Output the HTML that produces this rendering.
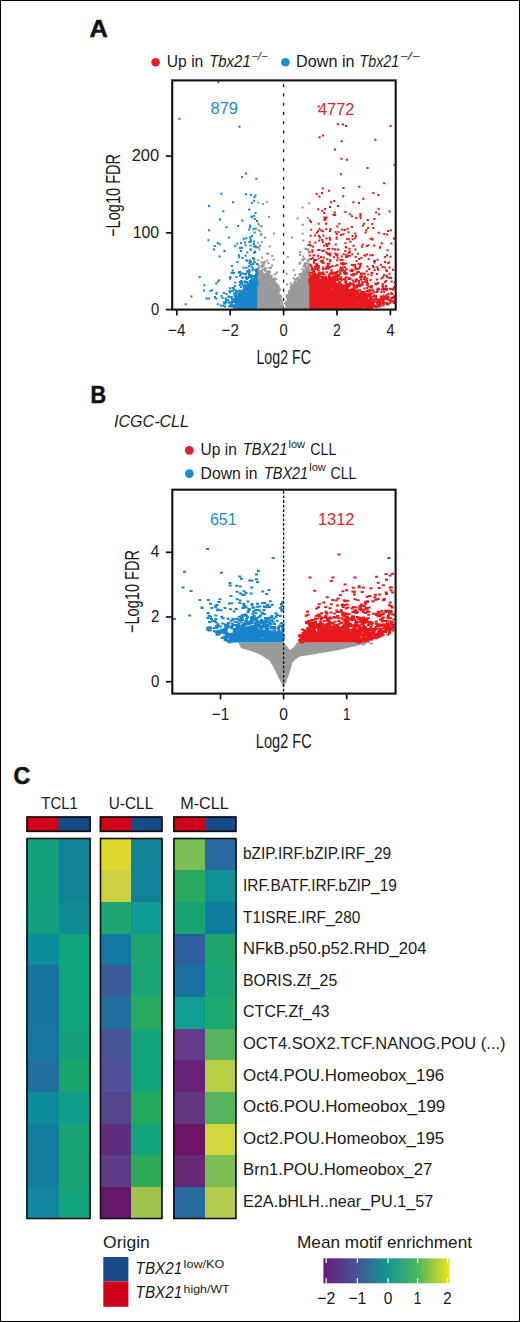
<!DOCTYPE html>
<html><head><meta charset="utf-8"><style>
html,body{margin:0;padding:0;background:#fff;overflow:hidden;width:520px;height:1322px;}
svg{display:block;}
text{font-family:"Liberation Sans", sans-serif;}
</style></head><body>
<svg width="520" height="1322" viewBox="0 0 520 1322">
<rect x="0" y="0" width="520" height="1322" fill="#fff"/>
<path d="M257.9 278.5V309.6M258.9 278.3V309.6M259.9 278.1V309.6M260.9 277.8V309.6M261.9 277.6V309.6M262.9 278.1V309.6M263.9 278.6V309.6M264.9 279.1V309.6M265.9 279.6V309.6M266.9 280.3V309.6M267.9 281.0V309.6M268.9 281.8V309.6M269.9 282.5V309.6M270.9 283.7V309.6M271.9 284.9V309.6M272.9 286.1V309.6M273.9 287.3V309.6M274.9 288.5V309.6M275.9 290.8V309.6M276.9 293.2V309.6M277.9 295.6V309.6M278.9 298.0V309.6M279.9 300.4V309.6M280.9 304.2V309.6M281.9 308.2V309.6M285.9 306.3V309.6M286.9 302.9V309.6M287.9 301.1V309.6M288.9 299.4V309.6M289.9 297.8V309.6M290.9 296.0V309.6M291.9 294.2V309.6M292.9 292.4V309.6M293.9 290.6V309.6M294.9 288.8V309.6M295.9 287.7V309.6M296.9 286.7V309.6M297.9 285.7V309.6M298.9 284.7V309.6M299.9 283.7V309.6M300.9 282.5V309.6M301.9 281.3V309.6M302.9 280.1V309.6M303.9 278.9V309.6M304.9 277.7V309.6M305.9 276.7V309.6M306.9 275.8V309.6M307.9 274.8V309.6M308.8 274.0V309.6" stroke="#9a9a9a" stroke-width="1.05" fill="none"/>
<path d="M257.6 277.9h.1M257.8 278.1h.1M257.5 278.1h.1M257.5 277.6h.1M257.8 276.8h.1M258.0 277.1h.1M257.7 277.5h.1M258.1 277.4h.1M257.6 275.5h.1M257.8 276.1h.1M258.1 276.2h.1M257.8 275.2h.1M258.1 275.4h.1M257.8 273.5h.1M258.0 272.0h.1M257.7 269.5h.1M258.3 265.6h.1M258.4 266.0h.1M258.0 264.2h.1M258.2 259.9h.1M257.7 247.2h.1M257.8 242.8h.1M258.2 223.4h.1M258.3 202.7h.1M259.1 278.2h.1M258.6 277.9h.1M258.9 277.2h.1M258.8 276.7h.1M258.7 276.9h.1M259.2 276.1h.1M258.7 276.0h.1M258.6 276.2h.1M259.4 273.8h.1M258.7 272.4h.1M258.4 273.2h.1M258.4 270.2h.1M258.4 269.7h.1M259.1 267.9h.1M259.3 249.5h.1M259.4 246.5h.1M258.9 247.2h.1M258.5 229.9h.1M258.5 224.6h.1M259.5 276.1h.1M259.8 276.6h.1M259.7 274.9h.1M259.5 274.3h.1M259.4 273.3h.1M259.9 271.9h.1M259.6 271.0h.1M260.2 245.5h.1M260.1 231.5h.1M260.5 276.6h.1M260.6 276.4h.1M260.5 276.2h.1M260.8 275.6h.1M261.3 274.9h.1M261.1 272.7h.1M260.9 272.1h.1M260.9 271.7h.1M260.7 234.9h.1M260.4 225.8h.1M262.2 277.1h.1M262.3 277.1h.1M262.3 277.3h.1M261.8 277.1h.1M261.5 277.2h.1M262.3 276.0h.1M262.3 275.7h.1M261.5 275.4h.1M262.1 273.2h.1M262.2 273.1h.1M261.6 272.3h.1M262.0 270.7h.1M261.4 267.1h.1M262.0 265.7h.1M261.5 262.2h.1M262.1 262.4h.1M262.1 257.4h.1M261.9 242.1h.1M261.5 234.1h.1M261.9 226.4h.1M262.5 276.6h.1M263.2 276.8h.1M262.5 276.8h.1M263.1 275.4h.1M262.5 275.9h.1M263.0 274.5h.1M263.1 273.8h.1M262.9 269.2h.1M263.4 266.3h.1M263.3 264.8h.1M262.9 204.1h.1M264.1 277.8h.1M264.3 276.8h.1M264.1 276.1h.1M264.4 275.3h.1M264.3 274.3h.1M263.6 274.3h.1M264.3 269.8h.1M263.7 264.4h.1M264.1 262.4h.1M264.4 278.2h.1M264.4 277.8h.1M264.8 276.8h.1M264.9 276.3h.1M264.9 276.6h.1M265.0 276.7h.1M264.8 275.6h.1M264.7 275.5h.1M265.4 275.4h.1M264.5 274.8h.1M264.9 274.9h.1M265.0 270.4h.1M265.0 268.5h.1M264.7 261.7h.1M264.7 237.6h.1M265.3 237.7h.1M265.6 279.5h.1M265.8 278.9h.1M265.6 277.8h.1M266.3 278.2h.1M265.7 278.4h.1M266.2 277.2h.1M266.4 277.1h.1M266.0 277.2h.1M265.9 275.8h.1M265.7 275.9h.1M266.4 276.2h.1M265.6 275.6h.1M265.5 274.6h.1M266.4 274.2h.1M265.9 274.4h.1M266.0 274.5h.1M266.2 271.4h.1M266.3 268.3h.1M265.8 268.5h.1M267.4 279.8h.1M267.2 278.3h.1M267.0 278.4h.1M266.5 278.4h.1M266.5 279.2h.1M266.7 278.8h.1M267.0 278.1h.1M267.0 278.2h.1M267.4 277.4h.1M266.8 276.9h.1M266.9 276.3h.1M267.1 276.5h.1M267.1 274.3h.1M266.5 274.4h.1M266.7 274.2h.1M266.7 272.2h.1M267.2 260.6h.1M266.9 253.5h.1M266.7 201.8h.1M268.0 280.4h.1M268.1 280.1h.1M268.3 279.6h.1M267.5 277.3h.1M267.7 276.5h.1M267.7 276.9h.1M267.6 276.4h.1M267.9 274.8h.1M268.2 272.2h.1M268.1 271.5h.1M268.3 253.7h.1M269.0 281.2h.1M268.8 280.9h.1M269.0 281.1h.1M268.5 280.4h.1M268.7 279.0h.1M268.5 279.5h.1M268.8 278.4h.1M269.1 277.5h.1M268.7 276.7h.1M269.2 274.5h.1M268.7 274.5h.1M268.9 274.0h.1M269.1 272.3h.1M269.3 271.1h.1M269.4 268.1h.1M268.5 263.1h.1M268.9 216.9h.1M270.2 281.7h.1M270.1 282.2h.1M270.4 282.3h.1M270.3 281.7h.1M270.1 280.6h.1M269.4 278.6h.1M269.9 278.7h.1M269.5 277.7h.1M270.3 278.2h.1M269.6 277.7h.1M270.1 278.5h.1M270.1 278.1h.1M269.6 277.2h.1M270.2 276.4h.1M269.9 272.1h.1M269.8 246.5h.1M270.4 281.3h.1M270.5 281.1h.1M270.7 280.9h.1M270.7 279.9h.1M271.1 280.5h.1M270.4 278.5h.1M270.9 276.8h.1M271.1 277.6h.1M271.0 277.4h.1M271.0 267.7h.1M271.6 284.3h.1M271.5 284.6h.1M271.9 284.3h.1M272.3 283.8h.1M272.2 283.3h.1M271.8 282.7h.1M271.5 281.2h.1M271.7 279.5h.1M272.0 279.7h.1M272.0 279.6h.1M271.9 279.5h.1M271.8 278.6h.1M271.8 275.4h.1M272.0 265.5h.1M272.2 256.0h.1M272.8 285.6h.1M273.4 284.6h.1M272.8 284.0h.1M273.1 282.6h.1M272.7 282.8h.1M272.5 281.0h.1M273.1 280.1h.1M274.1 284.2h.1M274.1 282.1h.1M274.2 280.6h.1M274.0 278.4h.1M273.6 259.4h.1M273.8 233.5h.1M274.4 286.5h.1M274.7 286.7h.1M275.0 287.2h.1M275.2 286.3h.1M274.5 286.0h.1M275.2 285.4h.1M274.9 284.2h.1M275.3 284.4h.1M274.6 283.2h.1M274.9 282.9h.1M275.1 282.4h.1M274.8 279.6h.1M274.9 278.4h.1M275.1 274.0h.1M276.0 289.9h.1M275.6 289.3h.1M276.4 289.4h.1M276.1 288.8h.1M276.4 287.9h.1M275.8 288.1h.1M276.2 286.8h.1M275.4 286.4h.1M276.0 284.8h.1M276.3 283.8h.1M275.4 284.5h.1M276.2 279.3h.1M276.6 292.1h.1M276.4 289.6h.1M277.2 289.3h.1M276.8 288.4h.1M277.1 287.8h.1M276.9 286.4h.1M277.4 285.1h.1M277.1 272.4h.1M277.9 294.2h.1M278.1 294.2h.1M278.2 293.9h.1M277.8 293.4h.1M278.3 292.9h.1M278.3 292.9h.1M278.2 292.4h.1M277.8 291.4h.1M278.3 291.4h.1M277.5 291.3h.1M277.5 290.7h.1M278.3 289.6h.1M278.3 288.6h.1M278.4 287.5h.1M278.2 286.1h.1M279.3 296.5h.1M278.7 296.3h.1M278.5 296.8h.1M278.9 295.6h.1M279.4 295.3h.1M278.5 292.0h.1M279.2 290.2h.1M278.7 289.1h.1M278.5 286.4h.1M279.5 300.0h.1M279.8 298.8h.1M279.8 296.3h.1M280.1 289.5h.1M279.4 289.4h.1M281.0 302.2h.1M281.3 301.6h.1M280.5 301.6h.1M280.7 301.2h.1M280.9 301.7h.1M281.3 300.8h.1M281.3 300.8h.1M280.6 300.0h.1M281.3 297.6h.1M280.7 296.0h.1M280.4 295.7h.1M281.4 306.9h.1M282.4 306.2h.1M281.7 306.4h.1M282.3 306.2h.1M282.4 305.7h.1M281.6 303.3h.1M282.1 303.8h.1M281.7 300.7h.1M283.4 309.0h.1M283.1 309.3h.1M283.1 307.4h.1M283.0 306.5h.1M285.1 309.4h.1M285.0 303.6h.1M286.0 305.3h.1M286.3 305.2h.1M285.9 303.2h.1M286.1 302.1h.1M287.2 302.3h.1M286.7 302.3h.1M286.4 302.7h.1M286.9 302.5h.1M286.4 301.4h.1M286.4 301.7h.1M286.6 297.6h.1M286.6 296.9h.1M286.7 295.1h.1M287.0 284.6h.1M286.7 273.8h.1M287.6 300.4h.1M288.2 300.3h.1M287.7 300.1h.1M288.0 298.4h.1M288.3 297.2h.1M287.6 297.4h.1M288.2 297.6h.1M287.8 295.3h.1M287.9 295.0h.1M287.7 256.9h.1M289.1 299.0h.1M289.4 299.3h.1M289.1 299.1h.1M289.2 297.6h.1M289.4 298.1h.1M288.8 297.4h.1M288.7 296.8h.1M288.6 295.6h.1M288.8 296.3h.1M289.0 296.2h.1M288.6 294.8h.1M289.1 294.7h.1M289.1 294.3h.1M288.9 292.5h.1M289.1 290.9h.1M290.0 297.7h.1M290.0 296.5h.1M289.8 296.5h.1M290.4 295.9h.1M290.1 293.9h.1M289.5 294.6h.1M290.2 294.2h.1M290.0 293.0h.1M290.0 293.3h.1M290.9 295.3h.1M291.2 295.7h.1M290.9 294.1h.1M291.0 294.1h.1M291.1 294.6h.1M291.4 294.4h.1M290.5 293.8h.1M290.6 293.6h.1M290.5 293.3h.1M290.6 292.7h.1M291.1 291.8h.1M291.3 291.2h.1M290.6 291.6h.1M290.6 292.0h.1M291.2 290.1h.1M291.0 289.2h.1M290.8 288.2h.1M290.6 288.6h.1M290.9 287.8h.1M291.1 286.0h.1M291.4 285.8h.1M290.8 283.3h.1M292.2 293.4h.1M291.9 293.2h.1M291.5 292.2h.1M291.5 292.7h.1M292.3 292.7h.1M291.6 291.2h.1M291.9 290.4h.1M291.9 289.9h.1M292.4 288.8h.1M291.7 287.3h.1M291.9 237.4h.1M292.9 292.3h.1M293.3 292.3h.1M292.6 289.7h.1M292.9 288.8h.1M293.2 288.4h.1M293.2 288.2h.1M293.3 288.1h.1M292.5 288.1h.1M292.4 287.7h.1M292.6 285.6h.1M293.3 286.0h.1M292.5 285.3h.1M293.0 285.0h.1M293.4 289.9h.1M293.7 290.2h.1M294.2 290.1h.1M293.9 287.7h.1M293.5 288.5h.1M294.1 288.3h.1M294.0 287.3h.1M293.8 286.7h.1M294.0 287.5h.1M294.1 283.1h.1M293.7 278.2h.1M293.7 270.2h.1M294.8 288.5h.1M294.8 287.3h.1M295.3 287.1h.1M294.8 287.5h.1M295.0 286.6h.1M295.0 285.5h.1M294.8 285.2h.1M295.2 285.0h.1M294.7 284.1h.1M294.8 284.4h.1M294.9 284.2h.1M294.6 283.4h.1M294.4 283.0h.1M294.9 283.2h.1M294.9 282.1h.1M294.9 281.9h.1M294.9 282.3h.1M295.1 279.7h.1M295.2 275.1h.1M295.5 287.6h.1M296.3 287.4h.1M296.3 286.5h.1M296.2 285.9h.1M296.2 285.2h.1M296.0 285.5h.1M295.8 283.9h.1M297.0 286.6h.1M297.0 286.5h.1M296.9 285.3h.1M297.2 284.3h.1M297.1 284.0h.1M296.9 283.1h.1M297.2 283.5h.1M296.8 283.1h.1M296.5 283.3h.1M296.5 279.3h.1M297.1 278.3h.1M298.4 284.7h.1M297.8 284.3h.1M298.1 284.1h.1M298.2 284.3h.1M298.3 284.3h.1M297.8 283.5h.1M298.1 283.6h.1M298.0 282.4h.1M297.4 282.3h.1M298.2 279.9h.1M297.7 280.7h.1M298.3 279.9h.1M298.1 278.3h.1M297.9 278.2h.1M297.6 218.5h.1M299.0 284.1h.1M298.9 283.4h.1M299.2 283.1h.1M299.1 282.5h.1M299.0 279.5h.1M298.5 277.6h.1M299.8 283.4h.1M299.9 282.9h.1M299.6 282.3h.1M300.2 281.3h.1M300.0 279.8h.1M299.5 279.8h.1M300.3 275.5h.1M299.4 274.3h.1M299.7 263.7h.1M300.1 262.8h.1M300.0 255.0h.1M300.2 251.9h.1M300.6 281.5h.1M300.5 281.4h.1M300.7 280.8h.1M300.9 280.2h.1M300.6 280.1h.1M301.2 276.6h.1M301.1 274.1h.1M302.2 280.8h.1M301.5 279.0h.1M302.0 279.1h.1M302.1 277.4h.1M301.4 278.2h.1M302.0 276.9h.1M302.0 275.9h.1M302.1 273.6h.1M302.4 279.1h.1M302.9 278.4h.1M303.3 278.8h.1M303.4 278.6h.1M303.2 277.4h.1M302.4 278.0h.1M303.1 277.8h.1M302.9 277.2h.1M303.4 274.0h.1M303.3 273.5h.1M303.1 272.0h.1M302.4 269.1h.1M302.5 260.4h.1M302.7 259.3h.1M303.1 256.4h.1M303.3 240.4h.1M302.6 233.7h.1M302.8 224.8h.1M302.5 207.4h.1M303.8 278.1h.1M303.6 277.2h.1M304.3 277.3h.1M303.6 277.4h.1M303.5 276.1h.1M303.6 275.0h.1M304.1 275.2h.1M303.6 274.4h.1M303.9 271.8h.1M304.2 271.7h.1M303.4 271.6h.1M304.0 270.2h.1M303.8 266.5h.1M304.3 264.6h.1M305.2 277.5h.1M304.7 276.2h.1M304.7 275.1h.1M304.9 275.3h.1M305.3 273.9h.1M304.6 274.4h.1M305.3 274.3h.1M304.6 273.0h.1M305.0 272.5h.1M304.6 271.4h.1M304.7 270.6h.1M305.3 265.3h.1M305.0 263.0h.1M304.6 258.8h.1M305.3 248.7h.1M306.0 276.1h.1M306.2 276.5h.1M306.2 274.8h.1M305.7 275.1h.1M306.1 275.1h.1M305.8 275.4h.1M305.9 273.8h.1M305.9 273.4h.1M306.2 273.6h.1M305.7 272.9h.1M306.4 272.7h.1M306.0 269.6h.1M305.6 267.6h.1M305.6 267.4h.1M305.6 266.1h.1M306.9 274.1h.1M307.0 272.9h.1M306.8 271.9h.1M307.0 271.9h.1M307.4 270.4h.1M306.9 269.9h.1M307.2 268.0h.1M306.8 268.1h.1M306.8 263.6h.1M306.7 249.1h.1M307.6 274.3h.1M307.9 274.1h.1M307.7 273.0h.1M307.6 272.2h.1M307.8 272.2h.1M308.3 271.6h.1M307.4 267.9h.1M308.2 266.2h.1M307.9 263.6h.1M307.5 260.8h.1M308.4 250.6h.1M308.2 249.9h.1M307.5 249.0h.1M307.9 245.1h.1M307.8 218.0h.1M309.1 271.7h.1M308.9 271.1h.1M308.5 271.6h.1M309.0 270.5h.1M308.5 269.5h.1M308.4 269.9h.1M309.2 269.2h.1M309.0 269.2h.1M309.0 267.3h.1M308.8 264.4h.1M308.6 264.2h.1M309.0 260.8h.1M308.7 259.0h.1M308.4 244.9h.1M309.1 203.4h.1" stroke="#9a9a9a" stroke-width="2.0" stroke-linecap="square" fill="none"/>
<path d="M235.1 307.5V308.1M236.1 306.5V308.4M237.1 305.5V308.7M238.1 304.5V309.0M239.1 303.5V309.3M240.1 302.4V309.6M241.1 300.8V309.6M242.1 299.2V309.6M243.1 297.6V309.6M244.1 296.0V309.6M245.1 294.5V309.6M246.1 293.5V309.6M247.1 292.5V309.6M248.1 291.5V309.6M249.1 290.5V309.6M250.1 289.5V309.6M251.1 289.0V309.6M252.1 288.5V309.6M253.1 287.9V309.6M254.1 287.4V309.6M255.1 286.8V309.6M256.1 286.3V309.6M257.0 285.8V309.6" stroke="#1785cc" stroke-width="1.05" fill="none"/>
<path d="M185.6 304.2h.1M191.3 296.5h.1M199.7 276.9h.1M204.1 290.4h.1M204.3 285.3h.1M206.4 298.5h.1M208.4 240.2h.1M208.7 298.6h.1M208.9 230.3h.1M209.0 206.0h.1M210.5 290.9h.1M211.9 290.2h.1M213.9 249.5h.1M214.9 297.5h.1M214.9 297.1h.1M214.7 246.0h.1M216.3 298.4h.1M216.5 294.0h.1M216.4 292.9h.1M216.2 283.6h.1M217.7 304.3h.1M218.0 281.4h.1M217.6 243.0h.1M219.3 280.3h.1M219.6 256.5h.1M219.7 244.2h.1M220.0 219.5h.1M220.7 305.6h.1M221.4 296.0h.1M222.5 298.0h.1M223.0 305.7h.1M223.3 211.3h.1M224.6 303.8h.1M224.1 302.8h.1M224.0 302.2h.1M223.9 293.1h.1M224.4 251.0h.1M225.0 306.4h.1M225.2 303.3h.1M225.5 303.3h.1M224.9 302.5h.1M225.6 298.5h.1M226.2 302.1h.1M225.9 300.0h.1M226.0 298.8h.1M226.4 294.1h.1M226.4 227.2h.1M228.2 300.2h.1M228.3 296.4h.1M229.2 306.3h.1M229.1 306.3h.1M228.8 302.8h.1M229.1 302.6h.1M229.0 297.0h.1M229.4 297.2h.1M228.7 296.2h.1M229.3 291.2h.1M228.8 237.4h.1M230.2 306.1h.1M230.4 305.6h.1M229.8 302.2h.1M230.1 292.5h.1M230.0 288.3h.1M230.1 278.7h.1M230.4 277.6h.1M229.7 277.3h.1M230.7 306.6h.1M231.4 306.6h.1M230.9 305.1h.1M231.3 303.6h.1M231.3 291.3h.1M231.5 272.8h.1M232.0 305.6h.1M232.3 305.6h.1M232.2 304.4h.1M231.7 303.8h.1M232.1 301.8h.1M232.0 301.5h.1M231.8 299.0h.1M231.7 297.1h.1M231.9 265.9h.1M233.2 306.5h.1M233.5 305.5h.1M232.8 290.7h.1M232.7 288.1h.1M232.7 273.0h.1M232.7 270.5h.1M233.1 202.2h.1M234.0 307.6h.1M234.1 307.8h.1M234.4 306.6h.1M233.8 302.0h.1M233.6 300.6h.1M234.0 299.8h.1M234.1 299.1h.1M234.2 293.2h.1M234.1 290.0h.1M233.7 288.1h.1M233.8 273.1h.1M235.4 306.6h.1M235.1 307.3h.1M235.4 307.1h.1M235.1 305.5h.1M235.5 304.8h.1M235.1 300.6h.1M235.1 300.8h.1M235.3 301.4h.1M235.0 301.1h.1M235.2 299.0h.1M235.0 298.5h.1M235.6 297.2h.1M234.6 296.0h.1M234.6 295.0h.1M234.7 285.9h.1M235.3 282.4h.1M235.1 246.2h.1M236.3 304.8h.1M236.2 304.8h.1M236.6 304.5h.1M236.1 305.2h.1M235.7 304.9h.1M236.1 303.7h.1M235.7 302.8h.1M235.9 300.3h.1M236.2 299.7h.1M236.5 299.4h.1M236.0 296.0h.1M235.8 292.7h.1M236.4 291.9h.1M236.1 290.6h.1M236.5 277.0h.1M237.0 304.0h.1M236.8 303.2h.1M236.9 302.0h.1M237.1 301.9h.1M237.1 299.8h.1M236.7 300.1h.1M236.9 300.2h.1M236.6 298.7h.1M236.9 298.9h.1M237.5 297.1h.1M236.6 296.9h.1M237.0 294.6h.1M236.6 294.4h.1M236.7 292.0h.1M236.7 292.0h.1M237.4 262.0h.1M237.1 243.8h.1M238.1 303.9h.1M238.0 302.4h.1M237.9 301.8h.1M237.9 301.5h.1M238.5 299.1h.1M238.1 298.7h.1M238.3 294.6h.1M238.5 294.2h.1M238.2 226.1h.1M239.1 303.1h.1M238.7 303.5h.1M239.5 302.8h.1M238.6 300.9h.1M238.9 299.7h.1M238.7 298.8h.1M239.4 298.3h.1M239.2 298.1h.1M238.7 296.0h.1M239.0 294.6h.1M239.5 294.5h.1M238.9 293.2h.1M238.8 290.5h.1M239.2 290.8h.1M239.6 282.3h.1M238.9 272.7h.1M239.3 272.1h.1M239.2 272.5h.1M239.2 257.3h.1M238.8 255.2h.1M240.3 302.0h.1M239.7 301.4h.1M240.6 301.0h.1M239.9 301.0h.1M239.6 300.2h.1M239.8 300.4h.1M240.0 298.7h.1M239.7 298.8h.1M239.7 298.0h.1M239.7 298.2h.1M239.8 297.3h.1M240.5 295.8h.1M239.8 294.2h.1M239.9 292.7h.1M240.3 290.9h.1M240.5 291.4h.1M240.2 291.4h.1M239.8 285.0h.1M240.0 275.7h.1M239.9 271.9h.1M240.1 271.9h.1M240.0 247.9h.1M241.5 299.5h.1M240.7 298.1h.1M241.4 298.7h.1M241.0 298.3h.1M240.7 296.9h.1M241.2 295.9h.1M240.9 296.1h.1M241.6 296.2h.1M241.2 294.9h.1M241.3 293.0h.1M240.9 292.9h.1M241.4 292.7h.1M240.8 287.1h.1M240.9 283.1h.1M241.3 281.0h.1M240.7 281.5h.1M241.5 281.6h.1M240.7 274.6h.1M240.6 273.2h.1M240.9 251.0h.1M240.9 243.1h.1M242.2 299.0h.1M242.1 298.5h.1M242.1 297.5h.1M242.1 297.9h.1M242.1 297.8h.1M242.0 296.9h.1M242.3 296.4h.1M241.7 294.9h.1M241.7 293.8h.1M242.0 293.2h.1M241.7 292.3h.1M241.7 292.5h.1M242.1 292.9h.1M242.4 291.5h.1M242.4 292.1h.1M242.6 290.6h.1M242.5 290.7h.1M241.9 291.1h.1M241.9 284.1h.1M242.0 282.4h.1M241.9 277.7h.1M242.4 258.0h.1M241.9 247.8h.1M242.2 220.5h.1M243.0 297.4h.1M242.8 296.2h.1M243.6 295.8h.1M242.9 296.0h.1M242.6 295.1h.1M243.1 294.2h.1M242.9 294.5h.1M242.9 293.1h.1M242.8 293.2h.1M242.7 291.8h.1M243.0 291.8h.1M243.6 290.6h.1M242.7 290.9h.1M243.6 290.3h.1M243.3 286.0h.1M243.0 277.5h.1M243.1 273.4h.1M243.5 267.8h.1M244.5 296.0h.1M243.8 295.0h.1M243.8 290.2h.1M244.0 290.0h.1M243.9 288.1h.1M243.9 288.0h.1M244.4 287.7h.1M243.9 288.0h.1M244.5 286.8h.1M244.2 285.2h.1M244.6 284.5h.1M244.5 282.1h.1M244.5 274.2h.1M243.8 238.8h.1M244.7 293.9h.1M245.3 293.5h.1M245.5 293.4h.1M245.2 291.9h.1M244.9 290.5h.1M245.2 290.5h.1M244.9 289.8h.1M245.2 290.0h.1M245.1 288.7h.1M244.6 284.7h.1M245.2 284.5h.1M244.8 281.2h.1M245.5 255.8h.1M245.6 245.3h.1M245.1 242.4h.1M245.7 292.8h.1M246.3 292.8h.1M245.8 292.1h.1M246.2 290.6h.1M246.3 289.5h.1M246.3 288.7h.1M246.4 288.3h.1M245.9 288.1h.1M246.2 285.7h.1M245.8 286.2h.1M246.5 281.9h.1M246.1 277.7h.1M245.8 277.0h.1M245.9 273.7h.1M246.3 267.8h.1M246.3 260.2h.1M246.2 238.2h.1M246.0 194.2h.1M245.9 173.6h.1M247.4 292.1h.1M247.2 291.9h.1M246.8 292.2h.1M247.6 290.6h.1M247.5 290.0h.1M247.3 288.6h.1M247.6 289.0h.1M246.8 288.0h.1M247.2 287.9h.1M247.3 287.1h.1M246.6 286.1h.1M247.0 283.1h.1M246.9 278.9h.1M247.1 271.7h.1M247.6 271.1h.1M247.3 260.7h.1M247.2 252.6h.1M248.0 291.3h.1M248.5 290.4h.1M247.9 290.4h.1M247.8 288.8h.1M248.6 288.9h.1M247.7 287.9h.1M248.4 287.9h.1M248.4 285.8h.1M248.5 285.6h.1M247.9 286.0h.1M248.0 286.0h.1M248.6 285.0h.1M248.1 284.5h.1M248.3 284.4h.1M248.2 284.4h.1M248.1 282.7h.1M248.0 277.9h.1M249.5 290.0h.1M249.1 290.3h.1M249.4 289.3h.1M249.1 288.8h.1M249.5 289.0h.1M248.8 287.8h.1M249.5 288.1h.1M248.9 287.2h.1M249.4 285.9h.1M248.8 276.4h.1M248.8 274.3h.1M248.9 272.5h.1M249.6 272.1h.1M248.9 270.9h.1M249.3 269.6h.1M248.9 266.3h.1M249.4 263.3h.1M249.4 242.0h.1M249.1 229.4h.1M249.2 209.4h.1M250.6 289.4h.1M250.6 287.9h.1M250.3 288.0h.1M250.0 286.9h.1M249.8 287.1h.1M249.7 286.8h.1M249.6 287.3h.1M250.0 285.8h.1M249.6 286.3h.1M250.4 285.5h.1M250.5 285.4h.1M249.7 285.2h.1M249.9 281.9h.1M249.8 280.7h.1M250.4 281.4h.1M250.5 276.5h.1M249.7 275.1h.1M249.9 261.4h.1M249.9 260.6h.1M250.5 249.2h.1M250.4 245.4h.1M250.5 239.5h.1M250.2 237.3h.1M250.1 226.9h.1M249.9 225.5h.1M250.7 288.9h.1M250.7 288.7h.1M251.5 287.5h.1M251.5 285.7h.1M251.1 285.7h.1M251.6 285.8h.1M250.7 285.4h.1M250.7 283.8h.1M251.4 283.3h.1M251.6 283.5h.1M250.8 282.8h.1M250.9 281.4h.1M251.0 281.8h.1M251.1 277.7h.1M250.8 276.5h.1M251.6 276.9h.1M251.4 276.0h.1M250.7 275.0h.1M250.9 264.6h.1M251.0 262.0h.1M250.7 249.8h.1M250.8 241.4h.1M251.4 216.4h.1M252.1 288.3h.1M251.6 288.1h.1M251.7 287.9h.1M252.0 288.2h.1M251.9 285.7h.1M251.9 286.2h.1M252.5 284.6h.1M252.2 284.9h.1M251.8 285.2h.1M251.8 283.4h.1M251.8 283.1h.1M252.2 281.9h.1M252.0 281.0h.1M252.6 280.3h.1M251.7 279.2h.1M251.6 279.4h.1M252.3 270.2h.1M251.7 266.7h.1M252.0 235.9h.1M251.9 217.2h.1M251.9 202.8h.1M252.9 287.2h.1M253.3 287.2h.1M253.0 286.0h.1M253.6 286.3h.1M253.1 284.0h.1M252.6 283.4h.1M253.0 283.9h.1M253.3 283.6h.1M252.9 282.5h.1M253.0 281.6h.1M252.7 281.4h.1M253.1 280.1h.1M252.6 279.6h.1M253.5 276.1h.1M252.9 268.8h.1M253.0 264.1h.1M252.9 258.3h.1M253.5 229.2h.1M254.0 287.3h.1M254.1 283.0h.1M254.6 282.5h.1M253.9 282.7h.1M253.7 283.1h.1M254.5 281.4h.1M253.9 280.6h.1M254.0 278.7h.1M254.0 279.0h.1M254.6 276.3h.1M254.1 261.6h.1M254.1 258.9h.1M253.9 252.7h.1M253.7 246.6h.1M253.9 243.9h.1M254.1 241.5h.1M254.1 215.8h.1M254.1 200.8h.1M254.4 197.2h.1M255.2 285.9h.1M255.0 286.7h.1M254.9 285.4h.1M255.3 285.2h.1M255.0 283.7h.1M255.2 282.3h.1M255.5 279.1h.1M254.7 279.6h.1M255.3 277.9h.1M255.2 277.1h.1M254.6 277.6h.1M255.3 270.3h.1M255.6 269.6h.1M254.8 262.4h.1M254.8 252.4h.1M255.1 251.6h.1M254.6 232.5h.1M254.7 218.9h.1M255.5 212.9h.1M255.5 195.5h.1M255.6 285.4h.1M255.8 286.0h.1M256.4 284.7h.1M255.8 282.4h.1M256.2 280.7h.1M256.4 280.0h.1M255.7 277.3h.1M256.3 278.2h.1M256.2 276.6h.1M256.4 276.7h.1M256.4 275.8h.1M256.3 274.9h.1M256.0 274.0h.1M256.4 271.7h.1M256.1 247.4h.1M255.6 246.3h.1M255.6 228.4h.1M257.2 285.7h.1M256.9 285.5h.1M256.7 284.5h.1M257.1 283.9h.1M257.1 284.6h.1M256.9 283.1h.1M257.2 283.0h.1M257.4 282.8h.1M257.4 283.5h.1M257.1 282.5h.1M257.2 282.2h.1M257.2 281.3h.1M256.8 280.0h.1M256.7 276.7h.1M256.8 274.9h.1M257.1 274.2h.1M257.2 273.5h.1M256.8 271.4h.1M256.8 269.3h.1M257.0 264.0h.1M256.9 220.9h.1M218.2 82.3h.1M179.4 118.8h.1M239.4 126.8h.1M241.9 176.9h.1M256.3 178.8h.1M221.2 193.8h.1M250.9 194.9h.1" stroke="#1785cc" stroke-width="2.0" stroke-linecap="square" fill="none"/>
<path d="M309.7 284.7V309.6M310.7 284.8V309.6M311.7 285.0V309.6M312.7 285.1V309.6M313.7 285.2V309.6M314.7 285.4V309.6M315.7 285.5V309.6M316.7 285.7V309.6M317.7 285.8V309.6M318.7 286.0V309.6M319.7 286.1V309.6M320.7 286.3V309.6M321.7 286.4V309.6M322.7 286.5V309.6M323.7 286.7V309.6M324.7 286.8V309.6M325.7 287.0V309.6M326.7 287.1V309.6M327.7 287.3V309.6M328.7 287.4V309.6M329.7 287.6V309.6M330.7 287.9V309.6M331.7 288.3V309.6M332.7 288.7V309.6M333.7 289.1V309.6M334.7 289.5V309.6M335.7 289.9V309.6M336.7 290.3V309.6M337.7 290.7V309.6M338.7 291.1V309.6M339.7 291.5V309.6M340.7 292.0V309.6M341.7 292.6V309.6M342.7 293.2V309.6M343.7 293.8V309.6M344.7 294.4V309.6M345.7 295.0V309.6M346.7 295.6V309.6M347.7 296.2V309.6M348.7 296.8V309.6M349.7 297.4V309.6M350.7 298.0V309.6M351.7 298.6V309.6M352.7 299.2V309.6M353.7 299.8V309.6M354.7 300.4V309.6M355.7 301.0V309.5M356.7 301.6V309.4M357.7 302.2V309.3M358.7 302.8V309.2M359.7 303.4V309.1M360.7 304.1V309.0M361.7 304.8V308.9M362.7 305.5V308.8M363.7 306.2V308.7M364.7 306.9V308.6M365.7 307.6V308.5" stroke="#e8191c" stroke-width="1.05" fill="none"/>
<path d="M309.7 284.6h.1M309.6 282.6h.1M309.4 282.0h.1M310.1 280.9h.1M309.9 280.3h.1M309.3 279.8h.1M309.9 279.0h.1M309.4 279.2h.1M309.5 279.3h.1M309.9 275.0h.1M309.5 274.9h.1M309.4 272.8h.1M309.7 255.6h.1M309.5 252.2h.1M309.5 245.0h.1M309.7 242.2h.1M309.9 220.4h.1M310.3 284.0h.1M310.4 284.5h.1M310.9 282.8h.1M310.4 282.9h.1M310.4 283.2h.1M310.7 282.6h.1M310.7 282.8h.1M310.7 281.3h.1M310.7 280.4h.1M310.5 280.7h.1M310.6 279.5h.1M310.4 277.9h.1M311.1 278.8h.1M310.4 277.8h.1M310.2 277.7h.1M311.2 276.0h.1M310.5 276.2h.1M310.6 276.4h.1M310.2 272.4h.1M311.1 265.8h.1M310.3 264.8h.1M311.1 259.1h.1M310.8 245.4h.1M310.6 235.8h.1M311.2 229.7h.1M311.0 222.1h.1M312.1 284.6h.1M311.5 283.6h.1M311.6 282.9h.1M312.0 281.3h.1M312.0 281.8h.1M311.6 278.2h.1M311.9 278.1h.1M311.7 277.0h.1M312.0 276.7h.1M312.1 273.0h.1M311.7 272.8h.1M311.7 270.0h.1M311.9 268.0h.1M312.0 268.7h.1M311.7 267.5h.1M311.5 266.7h.1M312.3 283.9h.1M312.9 283.7h.1M313.0 282.3h.1M312.4 282.1h.1M312.7 281.3h.1M312.9 280.7h.1M312.6 280.6h.1M312.4 280.2h.1M312.8 281.1h.1M312.9 279.9h.1M312.7 280.0h.1M313.1 278.8h.1M313.1 278.7h.1M312.3 278.9h.1M312.7 277.5h.1M312.8 276.8h.1M312.4 275.3h.1M313.0 274.4h.1M313.1 270.6h.1M312.9 268.7h.1M312.5 258.0h.1M312.4 251.8h.1M312.3 250.2h.1M313.0 246.6h.1M313.8 284.6h.1M313.8 284.9h.1M313.3 284.0h.1M313.8 283.3h.1M313.6 282.9h.1M313.3 281.5h.1M313.8 278.1h.1M313.2 276.0h.1M313.9 275.4h.1M313.9 271.3h.1M313.7 271.4h.1M314.0 269.3h.1M313.9 269.7h.1M314.0 262.7h.1M314.0 261.0h.1M314.0 259.7h.1M313.5 255.5h.1M314.1 255.2h.1M314.2 285.3h.1M314.7 283.3h.1M314.9 283.2h.1M315.0 282.5h.1M315.2 282.2h.1M314.3 281.9h.1M314.5 281.9h.1M314.6 282.1h.1M314.3 280.6h.1M315.1 278.7h.1M315.1 278.6h.1M314.5 277.8h.1M314.9 276.3h.1M314.8 273.5h.1M315.2 274.1h.1M314.8 274.3h.1M314.7 273.2h.1M315.0 266.8h.1M314.8 235.5h.1M315.2 285.3h.1M315.7 283.7h.1M315.6 283.7h.1M315.9 283.8h.1M315.9 283.1h.1M315.2 283.4h.1M315.5 281.7h.1M315.6 280.8h.1M315.3 281.1h.1M315.3 280.0h.1M315.5 278.9h.1M316.2 277.9h.1M316.2 277.9h.1M315.4 276.8h.1M316.1 268.4h.1M315.7 266.7h.1M316.1 259.9h.1M315.4 242.6h.1M316.7 285.0h.1M316.8 284.2h.1M317.1 284.3h.1M316.4 282.9h.1M316.5 281.1h.1M316.2 280.9h.1M316.4 279.8h.1M317.0 279.6h.1M316.3 277.0h.1M316.5 276.5h.1M316.4 276.5h.1M316.6 276.0h.1M316.6 275.5h.1M316.6 275.6h.1M317.1 275.0h.1M316.4 268.8h.1M316.3 267.2h.1M316.3 265.9h.1M317.0 264.3h.1M316.2 264.0h.1M316.8 232.8h.1M316.6 194.0h.1M317.9 285.0h.1M317.5 284.7h.1M317.3 284.3h.1M317.7 284.0h.1M318.1 284.4h.1M317.7 283.4h.1M317.4 282.5h.1M317.9 281.5h.1M318.1 281.5h.1M318.0 281.7h.1M317.6 280.2h.1M317.5 280.2h.1M317.5 280.6h.1M317.8 280.1h.1M317.2 279.0h.1M317.2 277.9h.1M317.4 274.9h.1M318.1 270.4h.1M317.5 269.5h.1M317.5 268.9h.1M317.8 266.1h.1M317.8 255.7h.1M318.2 250.1h.1M318.0 231.2h.1M318.2 209.3h.1M318.9 285.1h.1M318.6 285.9h.1M319.2 285.1h.1M318.3 285.8h.1M318.6 284.8h.1M318.7 283.0h.1M318.5 282.7h.1M318.6 282.3h.1M318.4 282.8h.1M319.0 282.4h.1M318.3 281.6h.1M318.8 282.0h.1M319.0 280.2h.1M318.7 280.1h.1M318.4 279.2h.1M318.3 278.1h.1M318.5 277.1h.1M319.1 275.8h.1M318.3 275.9h.1M318.3 273.2h.1M318.5 270.6h.1M318.7 268.1h.1M318.7 265.9h.1M318.5 258.6h.1M319.2 240.6h.1M318.9 236.1h.1M318.6 223.7h.1M320.0 285.7h.1M319.3 285.2h.1M319.8 285.7h.1M320.1 283.5h.1M319.8 283.2h.1M319.8 282.9h.1M320.2 281.7h.1M320.1 281.7h.1M320.0 280.5h.1M319.7 280.4h.1M319.5 280.5h.1M319.9 280.5h.1M320.0 277.0h.1M319.5 275.8h.1M319.3 274.3h.1M319.5 273.3h.1M320.1 272.6h.1M319.5 250.1h.1M319.9 237.4h.1M319.4 229.1h.1M319.4 196.4h.1M319.5 137.2h.1M320.8 285.3h.1M320.7 284.9h.1M321.1 284.3h.1M320.7 283.8h.1M320.9 283.5h.1M320.7 283.9h.1M320.4 283.8h.1M320.3 282.6h.1M320.3 283.2h.1M320.9 282.0h.1M320.4 280.8h.1M320.6 280.5h.1M320.6 280.2h.1M320.5 280.1h.1M320.7 277.3h.1M320.4 273.9h.1M320.2 272.6h.1M320.9 261.4h.1M321.0 257.0h.1M321.1 257.2h.1M321.7 285.7h.1M321.4 284.6h.1M322.1 284.8h.1M321.7 284.3h.1M321.5 282.9h.1M321.8 282.6h.1M321.4 282.7h.1M321.7 281.6h.1M322.1 278.5h.1M321.4 273.2h.1M321.5 260.9h.1M322.0 240.0h.1M321.3 230.4h.1M321.9 193.0h.1M322.7 284.9h.1M323.1 284.9h.1M322.5 285.0h.1M322.5 284.3h.1M322.5 283.8h.1M322.3 282.7h.1M322.8 282.6h.1M323.1 282.3h.1M322.4 281.7h.1M322.2 282.2h.1M322.8 280.4h.1M322.7 278.8h.1M322.8 278.5h.1M322.8 277.9h.1M322.8 276.9h.1M322.3 277.1h.1M322.3 277.0h.1M322.6 277.2h.1M322.9 274.5h.1M322.9 273.9h.1M323.0 269.3h.1M323.1 267.4h.1M322.3 262.4h.1M322.7 260.6h.1M322.3 251.0h.1M322.9 242.0h.1M322.9 231.2h.1M322.3 210.7h.1M322.7 188.6h.1M322.9 135.6h.1M323.6 285.7h.1M323.4 286.1h.1M324.1 286.4h.1M323.7 286.0h.1M323.9 286.5h.1M323.9 284.9h.1M323.9 284.9h.1M324.0 282.7h.1M323.8 283.5h.1M324.2 282.8h.1M323.4 282.1h.1M323.3 281.9h.1M324.0 282.2h.1M323.8 281.5h.1M323.3 281.1h.1M324.0 281.5h.1M324.0 281.6h.1M323.9 280.5h.1M324.1 277.9h.1M323.6 277.7h.1M323.3 277.7h.1M323.2 272.3h.1M323.5 268.8h.1M323.5 262.9h.1M323.6 262.8h.1M323.9 257.6h.1M323.8 250.4h.1M324.0 245.7h.1M323.4 235.4h.1M324.1 212.9h.1M324.3 286.3h.1M325.1 286.0h.1M324.5 286.7h.1M325.0 285.1h.1M324.3 284.2h.1M324.5 284.0h.1M325.1 284.3h.1M324.7 282.9h.1M325.1 281.6h.1M324.3 281.4h.1M324.6 281.4h.1M325.0 280.2h.1M324.9 280.4h.1M324.6 280.7h.1M324.6 280.1h.1M324.5 279.7h.1M324.4 279.8h.1M325.1 277.2h.1M324.3 274.2h.1M324.3 220.0h.1M324.3 217.5h.1M325.1 209.0h.1M325.7 286.4h.1M325.6 286.8h.1M325.2 286.3h.1M326.1 285.1h.1M325.7 285.2h.1M325.4 284.0h.1M325.6 283.2h.1M325.7 283.5h.1M325.5 283.9h.1M325.4 283.8h.1M325.8 282.6h.1M325.6 281.3h.1M326.2 280.6h.1M325.6 280.4h.1M325.5 280.7h.1M325.9 279.9h.1M325.9 277.9h.1M325.8 277.1h.1M325.8 276.5h.1M325.8 269.0h.1M326.1 229.1h.1M326.2 223.5h.1M325.9 223.7h.1M325.4 219.4h.1M327.1 286.7h.1M326.5 287.0h.1M326.8 285.4h.1M326.8 285.1h.1M326.2 284.4h.1M326.7 284.8h.1M326.3 284.1h.1M327.0 283.5h.1M326.9 281.2h.1M326.3 280.5h.1M326.9 280.2h.1M326.4 279.8h.1M326.7 272.3h.1M326.6 268.0h.1M326.4 267.5h.1M326.5 267.0h.1M327.1 253.6h.1M326.3 252.2h.1M327.2 246.0h.1M326.2 244.1h.1M326.5 238.4h.1M326.4 217.5h.1M328.1 287.0h.1M327.6 287.2h.1M327.6 286.8h.1M328.0 285.6h.1M327.2 285.8h.1M327.9 285.7h.1M327.7 285.1h.1M327.4 284.9h.1M327.5 281.8h.1M327.6 282.1h.1M327.2 281.3h.1M327.5 279.8h.1M327.4 268.4h.1M327.7 268.5h.1M328.2 266.5h.1M327.4 266.4h.1M327.7 265.8h.1M327.7 263.7h.1M327.3 259.2h.1M327.7 248.9h.1M328.3 285.4h.1M328.5 286.1h.1M328.5 285.5h.1M328.5 285.7h.1M328.4 285.1h.1M328.5 285.3h.1M329.1 285.3h.1M328.3 284.8h.1M328.7 285.2h.1M328.6 285.1h.1M328.6 284.4h.1M328.9 282.9h.1M328.4 282.6h.1M328.8 280.5h.1M329.1 279.6h.1M328.3 278.8h.1M329.1 277.8h.1M328.9 276.9h.1M329.2 276.7h.1M328.7 276.8h.1M329.1 274.7h.1M329.0 268.3h.1M328.5 253.9h.1M328.4 253.4h.1M329.1 248.8h.1M328.3 244.3h.1M329.0 190.7h.1M329.4 287.4h.1M329.3 285.6h.1M329.8 285.1h.1M330.0 285.4h.1M330.0 282.1h.1M329.4 282.5h.1M329.4 280.4h.1M329.3 279.0h.1M329.3 278.0h.1M330.2 273.8h.1M329.2 263.7h.1M329.8 261.3h.1M330.2 260.4h.1M330.1 255.6h.1M329.5 254.4h.1M330.2 253.7h.1M329.3 243.3h.1M330.0 239.7h.1M329.6 237.7h.1M330.0 231.0h.1M329.9 207.0h.1M330.2 287.1h.1M330.9 286.1h.1M330.5 286.0h.1M330.3 286.9h.1M330.5 286.6h.1M330.9 285.6h.1M330.4 283.0h.1M330.6 283.4h.1M330.8 283.0h.1M331.2 282.4h.1M330.3 281.3h.1M330.6 279.3h.1M330.9 277.8h.1M330.3 276.6h.1M331.1 273.1h.1M330.2 273.5h.1M330.3 267.1h.1M330.2 260.1h.1M330.5 253.8h.1M330.4 229.1h.1M331.1 202.2h.1M332.0 287.1h.1M331.4 285.1h.1M332.0 284.2h.1M331.6 283.6h.1M331.6 282.7h.1M331.9 282.7h.1M331.9 282.8h.1M331.9 282.2h.1M332.1 280.4h.1M332.2 281.2h.1M332.0 280.6h.1M331.4 279.8h.1M332.1 279.2h.1M331.9 274.1h.1M331.5 273.5h.1M331.4 271.5h.1M331.5 269.9h.1M333.1 287.4h.1M332.4 286.4h.1M332.6 285.8h.1M332.5 284.2h.1M332.6 283.2h.1M332.6 283.0h.1M332.7 279.6h.1M333.0 277.5h.1M332.8 272.8h.1M332.7 266.0h.1M332.5 248.7h.1M333.7 288.8h.1M333.4 288.8h.1M333.7 287.1h.1M333.9 288.0h.1M333.5 286.5h.1M333.5 285.4h.1M333.6 284.5h.1M333.4 284.8h.1M333.5 282.3h.1M333.6 282.3h.1M334.1 281.1h.1M333.7 281.9h.1M333.3 281.8h.1M333.4 280.4h.1M333.9 279.2h.1M333.7 278.5h.1M333.2 277.1h.1M333.6 276.0h.1M333.9 273.4h.1M333.9 257.2h.1M333.4 214.8h.1M334.4 289.4h.1M334.9 288.1h.1M334.6 288.4h.1M334.4 285.7h.1M335.1 285.9h.1M334.4 286.0h.1M334.3 285.3h.1M334.5 284.8h.1M334.4 282.3h.1M334.9 281.9h.1M334.3 281.4h.1M335.1 281.2h.1M334.3 278.7h.1M335.0 277.5h.1M334.9 272.6h.1M335.2 253.4h.1M334.9 249.6h.1M335.1 214.9h.1M334.7 212.6h.1M334.2 200.9h.1M335.0 149.6h.1M335.7 289.8h.1M335.5 289.1h.1M335.5 289.1h.1M335.7 288.0h.1M336.1 287.5h.1M335.8 287.4h.1M335.8 285.6h.1M335.4 285.2h.1M335.8 285.2h.1M335.4 284.4h.1M335.7 284.0h.1M335.9 283.4h.1M335.2 280.6h.1M335.8 279.6h.1M335.5 278.8h.1M336.1 275.9h.1M335.4 274.1h.1M335.7 265.8h.1M335.9 254.7h.1M335.3 249.3h.1M335.7 244.6h.1M335.6 231.9h.1M336.5 290.1h.1M336.5 290.0h.1M336.6 287.7h.1M336.7 286.5h.1M337.2 286.0h.1M336.5 286.1h.1M336.5 284.3h.1M337.1 280.2h.1M337.2 277.9h.1M336.4 276.7h.1M336.5 274.7h.1M336.8 272.8h.1M336.8 271.9h.1M337.1 255.4h.1M336.6 238.8h.1M336.6 237.5h.1M336.6 233.9h.1M338.0 290.6h.1M337.2 290.4h.1M337.3 288.9h.1M337.4 289.0h.1M338.0 287.8h.1M338.1 288.1h.1M338.1 288.5h.1M337.7 287.2h.1M338.1 286.1h.1M338.2 286.2h.1M337.6 285.0h.1M338.1 285.1h.1M338.0 285.1h.1M337.3 285.4h.1M337.2 285.6h.1M338.0 284.0h.1M338.0 284.5h.1M337.9 280.0h.1M338.2 278.7h.1M338.0 278.9h.1M337.4 278.2h.1M337.8 271.6h.1M337.3 265.1h.1M337.2 260.3h.1M337.7 257.7h.1M337.5 254.3h.1M338.1 249.6h.1M337.3 226.4h.1M337.9 206.1h.1M337.8 124.2h.1M339.2 290.4h.1M338.8 289.1h.1M339.0 288.2h.1M338.5 288.0h.1M338.4 287.8h.1M338.8 286.6h.1M338.7 285.7h.1M338.7 285.9h.1M338.8 283.5h.1M338.8 283.3h.1M339.0 282.3h.1M338.5 276.1h.1M338.8 274.9h.1M338.6 271.2h.1M338.4 231.9h.1M340.1 289.7h.1M339.9 289.8h.1M340.2 288.2h.1M339.4 288.0h.1M339.8 287.5h.1M339.7 285.9h.1M339.9 286.0h.1M339.3 285.4h.1M339.6 284.4h.1M339.5 283.1h.1M339.6 278.9h.1M340.0 269.6h.1M339.3 223.7h.1M340.8 291.5h.1M340.3 290.9h.1M340.3 289.5h.1M341.0 288.3h.1M340.5 288.9h.1M341.2 287.1h.1M340.9 285.4h.1M340.5 284.8h.1M340.8 284.3h.1M340.4 284.0h.1M340.2 281.7h.1M340.5 278.2h.1M340.9 278.4h.1M341.1 277.3h.1M340.6 277.2h.1M340.4 274.2h.1M340.3 272.8h.1M340.8 267.6h.1M341.1 263.8h.1M341.2 263.2h.1M340.5 259.7h.1M341.0 235.1h.1M340.9 174.3h.1M341.4 290.9h.1M341.7 289.8h.1M342.1 290.6h.1M341.5 289.5h.1M341.6 288.3h.1M341.8 287.6h.1M341.5 287.3h.1M341.5 286.0h.1M342.2 286.4h.1M341.9 285.9h.1M341.3 284.6h.1M341.8 279.9h.1M341.4 270.7h.1M341.4 268.7h.1M341.7 256.4h.1M342.2 229.5h.1M341.4 158.8h.1M341.5 141.2h.1M342.8 292.9h.1M342.5 292.5h.1M343.2 292.0h.1M342.4 290.8h.1M342.9 289.6h.1M342.8 288.3h.1M342.6 287.6h.1M343.1 286.7h.1M342.5 285.6h.1M342.7 285.8h.1M342.7 286.0h.1M342.9 267.4h.1M342.8 264.5h.1M343.2 262.9h.1M342.4 260.0h.1M343.1 196.2h.1M343.9 293.4h.1M343.4 293.1h.1M343.2 293.8h.1M344.1 293.0h.1M344.2 292.7h.1M343.6 292.3h.1M343.6 290.9h.1M343.3 290.5h.1M343.4 290.1h.1M344.0 289.0h.1M344.0 288.7h.1M343.2 288.0h.1M343.5 288.3h.1M343.8 285.2h.1M344.1 279.5h.1M343.8 279.3h.1M343.8 272.3h.1M343.2 270.0h.1M343.7 254.2h.1M343.4 234.2h.1M343.4 188.0h.1M344.5 293.1h.1M345.2 293.2h.1M344.3 292.5h.1M344.3 290.5h.1M345.1 290.5h.1M345.1 287.9h.1M345.1 288.2h.1M344.8 287.3h.1M345.1 282.3h.1M344.8 278.8h.1M344.9 278.4h.1M345.1 273.9h.1M344.4 273.7h.1M344.9 271.2h.1M344.3 267.2h.1M345.0 267.3h.1M344.4 264.0h.1M345.2 250.9h.1M344.8 230.0h.1M345.3 294.4h.1M346.1 294.3h.1M345.6 295.0h.1M345.6 294.9h.1M345.6 294.4h.1M345.8 292.1h.1M345.4 292.7h.1M345.2 291.4h.1M345.7 291.7h.1M346.1 291.2h.1M345.8 290.5h.1M346.0 290.9h.1M345.5 289.9h.1M345.3 287.5h.1M345.6 285.8h.1M346.0 282.9h.1M345.6 280.3h.1M346.1 277.7h.1M345.9 272.8h.1M346.1 269.5h.1M346.0 263.6h.1M346.1 257.1h.1M346.1 254.7h.1M345.8 247.0h.1M346.2 247.4h.1M345.4 243.2h.1M345.3 211.9h.1M347.1 295.5h.1M346.8 295.5h.1M346.6 295.1h.1M347.0 293.6h.1M346.9 292.3h.1M346.8 292.2h.1M346.3 291.1h.1M346.5 290.3h.1M346.6 288.6h.1M346.9 287.0h.1M347.2 287.0h.1M346.5 286.6h.1M346.3 286.0h.1M346.4 284.9h.1M347.2 284.9h.1M346.5 285.4h.1M346.4 281.4h.1M346.3 276.8h.1M346.8 273.5h.1M346.7 269.2h.1M347.1 256.9h.1M347.2 238.9h.1M346.9 159.7h.1M347.3 295.8h.1M347.5 294.7h.1M347.8 295.1h.1M348.1 293.9h.1M348.2 293.1h.1M347.4 290.7h.1M347.6 289.5h.1M347.8 289.7h.1M347.4 289.4h.1M347.3 288.8h.1M347.8 287.0h.1M347.4 286.3h.1M347.3 286.5h.1M348.0 284.8h.1M348.2 284.0h.1M347.6 256.0h.1M347.5 228.7h.1M349.0 296.5h.1M348.9 296.7h.1M348.5 296.0h.1M348.5 295.6h.1M349.0 293.9h.1M348.9 293.1h.1M348.6 292.9h.1M348.4 292.4h.1M349.0 292.4h.1M349.0 292.6h.1M348.4 279.1h.1M348.7 278.5h.1M349.0 278.3h.1M348.6 253.0h.1M348.7 239.2h.1M348.5 232.2h.1M349.4 296.9h.1M349.5 296.0h.1M349.6 295.4h.1M350.0 294.5h.1M349.9 294.9h.1M350.2 293.2h.1M350.0 292.1h.1M349.9 291.5h.1M349.3 292.1h.1M350.1 290.7h.1M349.4 289.7h.1M349.9 290.3h.1M349.5 286.2h.1M350.1 284.6h.1M349.9 282.9h.1M349.5 277.9h.1M349.7 255.8h.1M349.6 252.2h.1M349.7 251.6h.1M349.3 252.2h.1M349.4 248.7h.1M350.0 214.3h.1M350.9 297.8h.1M350.6 297.9h.1M350.7 296.2h.1M350.5 296.0h.1M350.8 293.5h.1M350.2 293.9h.1M350.8 292.8h.1M351.1 291.6h.1M350.5 290.4h.1M350.5 290.8h.1M350.3 279.0h.1M351.1 274.7h.1M350.5 270.7h.1M350.3 241.7h.1M351.9 297.7h.1M351.3 297.9h.1M351.6 298.2h.1M352.0 297.6h.1M351.8 295.5h.1M352.1 295.6h.1M352.0 293.8h.1M351.8 292.8h.1M352.1 292.0h.1M351.8 292.1h.1M351.9 290.3h.1M351.8 289.3h.1M352.1 274.8h.1M352.2 271.1h.1M351.4 269.7h.1M351.8 264.9h.1M351.8 226.9h.1M351.8 216.3h.1M353.2 299.2h.1M352.4 297.7h.1M352.9 297.4h.1M353.0 297.4h.1M352.4 296.8h.1M353.1 296.6h.1M353.1 296.6h.1M352.5 295.7h.1M352.4 295.8h.1M352.5 295.7h.1M352.4 295.3h.1M352.5 294.6h.1M352.2 294.3h.1M352.9 290.0h.1M353.1 289.2h.1M352.6 284.6h.1M352.3 284.3h.1M352.6 284.3h.1M352.3 283.6h.1M352.8 280.5h.1M352.9 265.3h.1M352.2 254.2h.1M352.6 239.2h.1M352.5 236.0h.1M354.0 299.3h.1M353.9 298.9h.1M354.1 298.9h.1M353.9 297.9h.1M354.1 297.8h.1M353.9 296.9h.1M353.3 297.2h.1M353.2 297.7h.1M354.0 295.9h.1M354.2 296.3h.1M353.6 296.2h.1M353.9 296.6h.1M353.7 295.5h.1M353.3 295.1h.1M354.0 293.0h.1M354.0 292.0h.1M353.3 292.1h.1M353.6 290.6h.1M353.9 289.2h.1M353.4 287.4h.1M353.7 286.6h.1M353.9 285.0h.1M353.7 275.4h.1M353.2 275.4h.1M353.3 273.8h.1M353.3 270.3h.1M354.0 264.8h.1M353.5 245.8h.1M353.4 202.2h.1M354.5 300.4h.1M354.3 300.3h.1M354.7 297.5h.1M354.3 297.1h.1M354.3 297.0h.1M354.9 296.6h.1M354.9 294.9h.1M354.9 294.6h.1M355.0 293.7h.1M355.0 292.8h.1M355.1 292.1h.1M354.9 290.2h.1M354.6 289.1h.1M354.8 287.4h.1M354.3 282.3h.1M355.1 274.3h.1M355.2 266.8h.1M355.0 265.1h.1M355.1 238.2h.1M355.2 233.6h.1M355.5 300.3h.1M355.6 299.6h.1M355.3 299.8h.1M356.1 298.8h.1M355.5 298.6h.1M355.9 297.7h.1M355.7 296.9h.1M355.8 293.1h.1M355.5 292.8h.1M355.5 291.2h.1M355.8 291.2h.1M355.5 290.8h.1M356.2 285.6h.1M355.8 281.4h.1M355.6 279.4h.1M355.7 268.4h.1M355.5 267.7h.1M355.7 257.0h.1M355.3 249.6h.1M355.9 236.0h.1M356.2 218.0h.1M356.7 301.2h.1M357.1 296.2h.1M356.2 294.2h.1M356.2 292.4h.1M356.9 291.6h.1M356.6 291.3h.1M357.0 287.8h.1M356.4 280.1h.1M357.1 279.2h.1M356.7 273.7h.1M356.8 272.3h.1M356.2 269.3h.1M356.6 261.0h.1M358.0 301.3h.1M357.2 300.8h.1M357.6 300.7h.1M357.9 300.3h.1M358.0 300.4h.1M357.9 300.6h.1M357.6 299.7h.1M357.5 297.5h.1M357.4 297.7h.1M357.2 297.2h.1M358.1 297.0h.1M357.9 293.5h.1M358.1 293.1h.1M357.3 291.4h.1M357.3 290.7h.1M358.2 290.3h.1M357.3 285.8h.1M357.6 284.7h.1M357.8 253.8h.1M358.2 301.2h.1M359.2 301.1h.1M359.0 301.0h.1M358.5 300.8h.1M358.5 298.9h.1M359.0 299.7h.1M358.7 298.2h.1M359.1 297.2h.1M358.3 295.0h.1M358.2 292.8h.1M358.8 286.0h.1M359.1 283.6h.1M358.5 281.8h.1M359.0 281.1h.1M358.8 272.1h.1M358.3 269.0h.1M358.4 263.7h.1M358.9 202.9h.1M359.2 186.8h.1M359.5 303.1h.1M359.9 301.7h.1M360.1 302.4h.1M359.9 301.0h.1M359.3 301.1h.1M360.0 299.3h.1M360.1 298.2h.1M359.9 297.2h.1M359.9 295.8h.1M359.7 296.1h.1M360.1 294.8h.1M359.7 294.6h.1M360.1 290.4h.1M360.1 290.3h.1M359.6 284.6h.1M360.0 277.0h.1M359.4 267.8h.1M360.0 266.4h.1M359.2 258.9h.1M360.3 303.6h.1M360.6 303.6h.1M360.4 302.4h.1M360.5 301.6h.1M360.6 300.6h.1M360.3 299.7h.1M361.0 299.0h.1M360.4 296.5h.1M360.4 295.2h.1M360.6 295.7h.1M360.8 293.2h.1M360.6 292.7h.1M360.3 286.3h.1M360.8 284.9h.1M361.2 279.8h.1M360.6 278.8h.1M360.7 277.1h.1M361.2 275.6h.1M360.9 273.4h.1M360.4 264.4h.1M361.0 263.8h.1M360.6 218.2h.1M360.4 216.1h.1M360.3 214.1h.1M361.4 304.5h.1M361.3 303.9h.1M361.8 301.9h.1M361.8 302.5h.1M361.6 300.9h.1M362.0 301.8h.1M361.9 300.7h.1M361.6 298.9h.1M362.1 298.2h.1M362.0 295.4h.1M361.8 295.2h.1M361.8 294.7h.1M361.5 294.8h.1M361.4 292.0h.1M361.4 257.8h.1M361.8 246.8h.1M362.8 305.1h.1M362.8 305.1h.1M363.0 305.2h.1M362.9 305.0h.1M362.3 305.2h.1M362.8 305.2h.1M362.4 304.9h.1M362.5 304.4h.1M362.3 302.9h.1M362.5 301.3h.1M362.5 300.7h.1M362.6 299.0h.1M362.8 297.0h.1M362.3 295.7h.1M362.5 296.2h.1M362.8 293.9h.1M362.5 292.6h.1M362.9 292.0h.1M362.6 284.8h.1M362.2 282.7h.1M362.6 281.9h.1M362.5 276.8h.1M362.4 273.5h.1M362.7 273.4h.1M362.6 244.6h.1M362.7 225.7h.1M363.2 198.7h.1M363.5 305.1h.1M363.5 303.3h.1M364.1 302.8h.1M363.2 302.4h.1M364.0 301.3h.1M363.7 300.9h.1M363.4 300.8h.1M363.2 299.6h.1M363.8 299.6h.1M364.2 299.2h.1M363.5 298.8h.1M364.2 299.0h.1M364.2 298.1h.1M363.4 298.0h.1M363.5 296.4h.1M364.0 295.5h.1M363.5 295.0h.1M363.4 294.1h.1M363.7 292.1h.1M363.8 278.9h.1M363.9 223.7h.1M364.4 306.7h.1M364.7 305.8h.1M365.0 304.9h.1M364.5 304.0h.1M364.8 304.7h.1M364.6 304.6h.1M364.4 303.8h.1M364.6 303.4h.1M364.2 303.8h.1M364.3 303.8h.1M365.2 300.2h.1M365.2 300.7h.1M364.4 298.8h.1M364.7 297.6h.1M365.2 294.2h.1M365.2 293.3h.1M364.6 292.9h.1M364.6 292.2h.1M364.4 288.4h.1M365.0 281.8h.1M365.0 277.3h.1M365.1 276.8h.1M364.8 273.8h.1M365.2 255.7h.1M364.2 255.3h.1M365.3 304.1h.1M365.7 304.0h.1M365.9 304.4h.1M365.6 302.8h.1M365.5 303.5h.1M365.4 303.1h.1M365.6 302.4h.1M365.4 301.1h.1M365.9 300.7h.1M365.8 301.2h.1M365.5 299.7h.1M365.9 300.1h.1M365.6 299.2h.1M366.0 297.9h.1M365.7 295.8h.1M365.8 294.5h.1M365.9 279.7h.1M365.5 232.5h.1M366.8 307.8h.1M366.7 308.3h.1M366.2 308.4h.1M366.3 307.2h.1M366.9 307.4h.1M366.9 306.5h.1M366.7 305.8h.1M367.1 305.9h.1M366.2 306.2h.1M366.7 305.0h.1M366.6 304.5h.1M366.9 305.0h.1M366.3 304.4h.1M366.8 304.5h.1M366.7 303.7h.1M366.9 304.3h.1M367.1 303.4h.1M366.5 303.9h.1M366.6 302.8h.1M366.8 302.7h.1M367.1 303.0h.1M366.6 300.2h.1M366.9 298.6h.1M366.7 299.2h.1M366.9 298.4h.1M366.9 296.2h.1M367.2 295.9h.1M366.2 294.4h.1M366.8 290.8h.1M367.1 291.3h.1M367.2 288.0h.1M367.1 285.3h.1M367.0 283.1h.1M366.4 280.9h.1M366.3 280.8h.1M367.1 278.4h.1M366.7 271.2h.1M366.9 254.6h.1M366.7 245.9h.1M366.3 230.3h.1M367.6 308.0h.1M367.6 303.7h.1M367.8 303.2h.1M367.5 301.5h.1M367.2 300.7h.1M367.6 301.1h.1M367.6 301.0h.1M367.2 301.1h.1M367.4 301.1h.1M367.3 294.9h.1M367.6 294.9h.1M367.5 294.2h.1M367.9 283.8h.1M367.2 281.0h.1M368.1 274.5h.1M367.5 266.6h.1M368.0 228.0h.1M367.7 220.0h.1M367.5 167.9h.1M368.9 308.0h.1M369.0 306.6h.1M369.2 306.3h.1M368.8 306.1h.1M369.0 305.5h.1M368.9 303.6h.1M369.2 303.0h.1M368.2 302.4h.1M368.3 301.6h.1M368.9 300.6h.1M368.5 299.8h.1M368.3 295.6h.1M368.3 294.6h.1M369.1 294.2h.1M368.8 294.2h.1M368.3 291.4h.1M368.5 286.2h.1M369.1 268.9h.1M368.6 259.0h.1M368.3 245.3h.1M369.3 307.9h.1M370.1 307.5h.1M370.2 307.2h.1M369.5 307.0h.1M369.9 305.7h.1M369.9 305.4h.1M369.7 304.1h.1M369.4 305.0h.1M369.7 303.9h.1M369.7 302.2h.1M369.6 302.4h.1M370.0 299.2h.1M369.9 300.0h.1M369.4 297.3h.1M369.6 293.6h.1M369.3 290.9h.1M369.5 290.1h.1M370.8 308.0h.1M371.0 307.5h.1M370.7 306.6h.1M370.4 304.3h.1M370.4 304.9h.1M370.2 303.4h.1M370.5 303.6h.1M370.6 301.0h.1M370.4 297.0h.1M370.3 296.8h.1M370.7 296.9h.1M370.7 296.6h.1M370.2 295.3h.1M370.9 293.7h.1M370.7 287.5h.1M370.6 286.8h.1M370.5 279.9h.1M370.5 255.3h.1M370.6 238.7h.1M371.4 306.7h.1M371.8 305.2h.1M371.3 305.4h.1M371.6 305.5h.1M371.6 305.1h.1M371.4 304.3h.1M372.0 304.1h.1M371.5 303.1h.1M371.3 300.9h.1M371.8 298.9h.1M372.1 296.8h.1M371.4 293.3h.1M371.3 290.6h.1M371.6 287.8h.1M371.8 285.9h.1M371.5 275.3h.1M371.6 273.0h.1M372.2 307.7h.1M372.7 305.8h.1M373.1 306.1h.1M372.8 306.4h.1M372.8 305.2h.1M372.6 305.1h.1M372.4 305.3h.1M372.7 305.0h.1M372.3 304.0h.1M373.2 304.1h.1M372.9 302.0h.1M373.2 302.8h.1M373.0 299.5h.1M373.1 290.3h.1M372.3 272.8h.1M372.8 266.2h.1M372.9 266.1h.1M372.8 255.2h.1M372.4 239.5h.1M372.2 238.8h.1M372.2 223.9h.1M373.7 304.7h.1M373.9 302.2h.1M373.8 301.8h.1M373.9 295.3h.1M373.7 292.4h.1M373.6 267.3h.1M374.2 260.7h.1M374.1 245.4h.1M373.3 228.1h.1M373.3 192.9h.1M375.1 306.6h.1M374.4 301.9h.1M374.3 300.0h.1M374.4 299.5h.1M374.2 296.6h.1M374.6 270.0h.1M374.4 262.4h.1M374.9 261.1h.1M374.3 219.1h.1M375.2 139.7h.1M375.2 307.1h.1M376.0 306.1h.1M375.6 298.3h.1M375.9 297.8h.1M376.1 295.8h.1M375.2 283.6h.1M376.1 212.6h.1M376.3 306.4h.1M376.7 307.1h.1M376.6 306.9h.1M377.2 303.5h.1M376.7 301.5h.1M376.5 299.2h.1M376.3 291.9h.1M377.1 291.3h.1M376.3 284.4h.1M376.8 279.4h.1M376.9 274.1h.1M377.5 304.5h.1M377.5 302.1h.1M378.1 301.1h.1M377.6 291.4h.1M377.5 289.5h.1M377.7 288.4h.1M378.1 288.5h.1M377.5 288.5h.1M377.4 283.6h.1M378.1 269.8h.1M378.1 269.3h.1M377.3 267.2h.1M377.5 259.8h.1M378.8 306.5h.1M378.8 305.8h.1M378.9 303.9h.1M379.0 303.7h.1M378.2 302.7h.1M378.4 300.1h.1M378.3 299.8h.1M378.2 299.5h.1M378.8 289.3h.1M378.3 283.0h.1M378.6 232.7h.1M379.1 214.3h.1M378.6 208.8h.1M378.3 195.0h.1M379.2 306.5h.1M380.0 302.8h.1M379.6 303.3h.1M379.8 301.0h.1M380.2 300.6h.1M379.9 299.2h.1M380.0 247.7h.1M380.1 246.8h.1M380.4 306.2h.1M380.6 303.9h.1M380.8 296.6h.1M380.9 264.7h.1M381.6 304.5h.1M381.5 299.0h.1M382.0 299.1h.1M381.2 297.3h.1M381.3 296.7h.1M381.4 291.9h.1M381.6 289.5h.1M381.5 278.4h.1M381.8 243.2h.1M382.5 303.1h.1M382.5 302.1h.1M383.1 301.3h.1M382.3 301.2h.1M382.5 298.5h.1M383.1 288.1h.1M382.8 285.7h.1M382.4 286.0h.1M382.7 284.0h.1M382.6 277.3h.1M383.0 277.3h.1M382.5 267.1h.1M383.4 305.4h.1M383.8 302.9h.1M383.7 302.0h.1M383.3 302.4h.1M383.7 299.6h.1M383.5 299.3h.1M383.9 299.4h.1M383.6 296.6h.1M383.5 295.4h.1M384.0 291.8h.1M383.5 289.5h.1M384.0 275.1h.1M384.1 234.0h.1M384.1 183.3h.1M384.4 303.4h.1M384.3 296.7h.1M385.2 288.8h.1M385.0 282.2h.1M384.8 267.5h.1M385.0 261.9h.1M385.1 257.1h.1M385.2 298.9h.1M385.5 297.4h.1M386.2 290.1h.1M385.7 286.4h.1M386.1 285.9h.1M385.9 281.1h.1M386.7 304.1h.1M386.8 302.8h.1M386.9 298.1h.1M386.2 295.3h.1M386.9 288.9h.1M386.6 275.7h.1M386.9 270.9h.1M386.2 270.2h.1M386.9 255.2h.1M387.1 234.4h.1M388.0 303.7h.1M387.4 299.0h.1M387.5 296.6h.1M387.3 288.8h.1M387.3 277.5h.1M387.5 250.3h.1M388.0 231.0h.1M388.3 304.6h.1M389.0 300.1h.1M388.5 297.2h.1M388.4 296.5h.1M388.3 294.1h.1M388.3 262.9h.1M388.9 262.4h.1M389.8 302.7h.1M390.0 288.7h.1M389.5 277.8h.1M389.6 273.7h.1M389.5 267.4h.1M389.5 211.4h.1M390.6 301.8h.1M391.1 301.8h.1M390.5 300.9h.1M391.0 300.9h.1M390.6 299.3h.1M391.1 293.4h.1M390.9 278.1h.1M391.1 277.7h.1M390.4 256.7h.1M390.7 230.3h.1M391.5 301.1h.1M392.1 301.6h.1M391.7 298.1h.1M392.1 294.1h.1M391.4 293.7h.1M391.5 292.9h.1M391.6 289.3h.1M391.5 281.4h.1M391.3 243.4h.1M392.8 301.4h.1M393.1 289.8h.1M393.0 269.8h.1M394.1 302.9h.1M393.8 302.8h.1M393.8 303.1h.1M393.9 301.6h.1M393.6 298.6h.1M393.3 297.6h.1M393.5 296.9h.1M394.2 296.2h.1M393.7 288.1h.1M394.0 238.4h.1M394.5 300.7h.1M394.6 286.3h.1M394.6 282.5h.1M394.5 164.8h.1M318.5 106.5h.1M343.0 124.5h.1M346.0 126.0h.1M390.5 126.0h.1" stroke="#e8191c" stroke-width="2.0" stroke-linecap="square" fill="none"/>
<path d="M238.3,642.8 L241.2,648.3 L251.9,651.2 L261.3,655.2 L269.4,660.6 L273.5,667.3 L277.5,675.4 L280.9,682.1 L283.5,687.8 L286.2,682.1 L289.6,672.7 L292.3,662.5 L296,659 L300,656.6 L320,653.2 L340,649.7 L355,646.2 L366,643.6 L366,642.6 L297,642.6 L294,647 L290,650 L286.5,646 L284,642.6 L238,642.6 Z" fill="#9a9a9a"/>
<path d="M362.8 643.0h1.0M367.5 641.1h1.0M363.0 644.7h1.0M362.2 641.5h1.0M371.0 643.5h1.0M365.2 643.0h1.0M368.1 642.1h1.0M362.9 644.2h1.0" stroke="#9a9a9a" stroke-width="1.8" stroke-linecap="square" fill="none"/>
<path d="M232.1 641.7V642.6M233.1 640.6V642.6M234.1 640.3V642.6M235.1 640.1V642.6M236.1 639.8V642.6M237.1 639.6V642.6M238.1 639.3V642.6M239.1 639.1V642.6M240.1 638.8V642.6M241.1 638.6V642.6M242.1 638.3V642.6M243.1 638.1V642.6M244.1 637.8V642.6M245.1 637.6V642.6M246.1 637.6V642.6M247.1 637.6V642.6M248.1 637.6V642.6M249.1 637.6V642.6M250.1 637.6V642.6M251.1 637.6V642.6M252.1 637.6V642.6M253.1 637.6V642.6M254.1 637.6V642.6M255.1 637.6V642.6M256.1 637.6V642.6M257.1 637.6V642.6M258.1 637.6V642.6M259.1 637.6V642.6M260.1 637.6V642.6M261.1 637.6V642.6M262.1 637.6V642.6M263.1 637.6V642.6M264.1 637.6V642.6M265.1 637.6V642.6M266.1 637.6V642.6M267.1 637.6V642.6M268.1 637.6V642.6M269.1 637.6V642.6M270.1 637.6V642.6M271.1 637.8V642.6M272.1 637.9V642.6M273.1 638.1V642.6M274.1 638.2V642.6M275.1 638.4V642.6M276.1 638.5V642.6M277.1 638.7V642.6M278.1 638.8V642.6M279.1 639.0V642.6M280.1 639.1V642.6M281.1 639.3V642.6M282.1 639.4V642.6M283.0 639.5V642.6" stroke="#1785cc" stroke-width="1.05" fill="none"/>
<path d="M199.4 599.9h1.0M201.4 607.6h1.0M201.6 608.0h1.0M207.1 629.6h1.0M207.0 549.1h1.0M207.2 627.5h1.0M207.4 617.9h1.0M207.5 613.1h1.0M207.8 599.9h1.0M208.5 630.4h1.0M209.0 622.1h1.0M208.5 615.8h1.0M209.7 630.6h1.0M209.8 628.3h1.0M209.8 627.2h1.0M209.9 616.8h1.0M210.0 603.8h1.0M211.0 619.0h1.0M212.0 621.2h1.0M211.4 608.0h1.0M213.8 631.3h1.0M213.5 628.1h1.0M214.3 621.0h1.0M215.6 631.9h1.0M215.8 626.0h1.0M215.4 622.3h1.0M215.3 619.1h1.0M215.3 615.4h1.0M215.3 615.4h1.0M215.2 607.3h1.0M215.4 605.5h1.0M216.6 634.7h1.0M216.3 632.7h1.0M216.6 627.8h1.0M217.1 610.3h1.0M216.6 605.1h1.0M217.3 630.7h1.0M217.3 624.2h1.0M217.3 609.5h1.0M218.5 634.5h1.0M219.0 632.6h1.0M218.1 626.3h1.0M219.2 631.1h1.0M219.8 626.5h1.0M219.4 599.2h1.0M220.6 632.4h1.0M221.0 629.8h1.0M220.4 610.3h1.0M221.0 572.8h1.0M221.6 638.0h1.0M221.2 632.8h1.0M221.8 631.7h1.0M221.3 630.2h1.0M221.2 616.8h1.0M222.6 632.6h1.0M223.0 631.0h1.0M222.2 623.4h1.0M222.6 618.3h1.0M223.2 637.8h1.0M223.7 636.8h1.0M224.1 629.0h1.0M224.6 639.9h1.0M225.1 639.4h1.0M224.6 633.6h1.0M224.1 633.0h1.0M224.8 631.5h1.0M224.8 624.5h1.0M224.4 608.0h1.0M225.8 638.7h1.0M225.3 639.2h1.0M225.5 637.7h1.0M225.3 637.6h1.0M225.9 636.7h1.0M225.8 634.7h1.0M225.7 632.0h1.0M225.4 630.3h1.0M225.2 626.7h1.0M225.3 625.6h1.0M227.1 641.1h1.0M226.3 640.0h1.0M226.4 634.8h1.0M226.6 632.7h1.0M226.3 629.0h1.0M226.3 628.3h1.0M227.0 627.0h1.0M227.1 625.8h1.0M226.6 625.8h1.0M226.3 624.9h1.0M227.5 641.5h1.0M227.9 640.7h1.0M227.5 637.4h1.0M227.2 636.0h1.0M227.9 623.0h1.0M227.5 618.8h1.0M228.9 635.3h1.0M228.7 634.2h1.0M228.2 634.1h1.0M228.2 623.5h1.0M228.9 603.5h1.0M229.4 642.5h1.0M229.9 641.2h1.0M229.8 638.8h1.0M229.9 636.2h1.0M229.7 635.5h1.0M229.9 634.2h1.0M229.8 626.7h1.0M230.0 609.3h1.0M229.7 585.5h1.0M230.7 640.9h1.0M230.6 639.1h1.0M231.0 638.7h1.0M230.7 638.4h1.0M231.0 636.7h1.0M230.4 636.1h1.0M230.4 634.6h1.0M230.3 635.5h1.0M230.5 633.9h1.0M231.0 626.5h1.0M230.6 620.7h1.0M232.0 640.7h1.0M231.7 641.6h1.0M231.1 640.2h1.0M231.5 640.6h1.0M231.4 640.3h1.0M231.5 639.5h1.0M231.8 639.0h1.0M231.1 638.5h1.0M231.4 636.7h1.0M231.8 635.6h1.0M231.6 633.4h1.0M231.2 628.3h1.0M231.7 626.2h1.0M231.8 623.6h1.0M231.1 603.3h1.0M233.1 639.7h1.0M232.2 638.9h1.0M232.9 639.5h1.0M232.8 639.3h1.0M232.6 639.1h1.0M232.3 638.3h1.0M232.7 637.9h1.0M233.0 637.0h1.0M233.0 635.3h1.0M232.8 634.8h1.0M232.4 635.5h1.0M232.3 625.1h1.0M232.6 625.0h1.0M232.6 620.2h1.0M232.5 618.7h1.0M233.7 640.2h1.0M233.3 639.6h1.0M233.4 639.4h1.0M233.3 640.1h1.0M233.8 640.0h1.0M233.7 640.2h1.0M233.5 639.1h1.0M233.8 637.5h1.0M233.6 636.0h1.0M234.0 636.0h1.0M233.5 634.4h1.0M233.4 633.4h1.0M233.7 630.8h1.0M233.6 629.8h1.0M234.0 628.9h1.0M233.5 625.0h1.0M233.6 611.5h1.0M234.7 637.3h1.0M234.3 637.1h1.0M234.8 638.0h1.0M234.6 635.2h1.0M234.6 635.5h1.0M234.7 634.3h1.0M234.2 632.5h1.0M234.9 632.2h1.0M234.3 632.5h1.0M235.9 639.2h1.0M235.7 638.8h1.0M235.2 639.4h1.0M236.1 638.0h1.0M235.7 637.5h1.0M235.5 637.4h1.0M235.2 637.7h1.0M235.6 637.7h1.0M235.1 635.5h1.0M235.3 635.4h1.0M235.8 634.1h1.0M236.0 634.2h1.0M235.5 632.5h1.0M235.7 631.9h1.0M235.8 625.0h1.0M235.9 625.0h1.0M235.3 622.1h1.0M236.0 621.9h1.0M236.0 618.9h1.0M235.8 609.1h1.0M236.3 639.1h1.0M236.9 639.3h1.0M236.4 638.5h1.0M236.6 637.9h1.0M236.7 636.9h1.0M237.0 636.4h1.0M236.6 630.6h1.0M236.1 629.1h1.0M236.1 627.8h1.0M236.8 626.8h1.0M236.5 619.0h1.0M236.7 599.3h1.0M236.5 591.8h1.0M236.2 585.8h1.0M237.8 639.0h1.0M237.1 638.8h1.0M237.9 639.0h1.0M237.2 637.8h1.0M237.6 637.4h1.0M237.4 636.6h1.0M237.2 636.9h1.0M237.1 636.1h1.0M237.3 634.4h1.0M237.2 634.6h1.0M237.3 633.7h1.0M237.5 634.2h1.0M237.1 633.4h1.0M237.8 634.3h1.0M237.8 629.5h1.0M237.7 625.2h1.0M237.8 619.6h1.0M238.3 637.2h1.0M238.5 636.0h1.0M238.9 633.3h1.0M238.6 634.0h1.0M238.6 633.7h1.0M239.0 632.6h1.0M239.0 629.4h1.0M238.2 629.7h1.0M238.2 627.1h1.0M238.1 625.8h1.0M238.5 625.8h1.0M238.4 623.3h1.0M238.7 616.8h1.0M239.2 638.7h1.0M239.5 638.0h1.0M239.4 638.6h1.0M239.1 636.3h1.0M239.6 635.3h1.0M240.0 633.9h1.0M239.9 633.7h1.0M239.8 633.3h1.0M239.6 633.6h1.0M239.3 632.9h1.0M239.7 632.1h1.0M239.7 631.4h1.0M239.6 630.3h1.0M239.5 628.4h1.0M239.5 628.1h1.0M239.5 626.3h1.0M239.4 620.7h1.0M239.3 603.0h1.0M239.7 600.4h1.0M239.8 593.6h1.0M239.8 586.5h1.0M239.2 576.5h1.0M241.0 637.6h1.0M240.5 637.9h1.0M240.7 635.9h1.0M241.0 634.8h1.0M240.2 633.9h1.0M240.1 633.2h1.0M240.3 632.8h1.0M240.5 631.7h1.0M241.1 632.5h1.0M240.3 631.5h1.0M240.6 630.3h1.0M240.9 630.3h1.0M240.7 628.0h1.0M240.6 619.7h1.0M240.3 620.1h1.0M241.1 619.3h1.0M240.6 617.3h1.0M240.9 578.8h1.0M241.4 637.7h1.0M241.7 638.0h1.0M241.2 638.3h1.0M241.9 636.9h1.0M242.1 637.3h1.0M241.9 635.7h1.0M241.7 636.1h1.0M241.9 634.5h1.0M242.1 629.8h1.0M241.7 629.9h1.0M241.2 629.0h1.0M242.0 625.1h1.0M241.6 622.4h1.0M241.8 619.5h1.0M242.0 620.1h1.0M241.7 617.3h1.0M241.7 615.3h1.0M241.7 594.7h1.0M242.5 637.4h1.0M242.7 636.2h1.0M242.2 636.7h1.0M242.3 636.0h1.0M242.3 634.0h1.0M242.9 633.8h1.0M242.9 633.1h1.0M242.9 631.5h1.0M242.8 631.7h1.0M242.5 630.5h1.0M242.5 629.2h1.0M242.7 628.4h1.0M243.0 627.1h1.0M242.3 607.9h1.0M244.1 637.8h1.0M243.4 636.3h1.0M243.3 635.9h1.0M243.3 634.4h1.0M243.3 634.8h1.0M243.9 634.7h1.0M243.6 634.3h1.0M243.9 633.6h1.0M244.0 633.7h1.0M243.4 633.1h1.0M244.1 632.2h1.0M243.6 630.6h1.0M243.4 629.8h1.0M243.8 625.6h1.0M244.0 623.7h1.0M243.8 607.6h1.0M243.4 605.5h1.0M243.2 604.1h1.0M243.7 594.9h1.0M243.6 591.3h1.0M244.9 637.1h1.0M244.1 635.8h1.0M244.1 636.2h1.0M244.4 636.4h1.0M244.3 634.8h1.0M244.6 634.0h1.0M245.0 633.3h1.0M244.9 633.6h1.0M244.5 633.3h1.0M245.1 632.0h1.0M244.7 630.8h1.0M244.5 631.0h1.0M244.9 630.6h1.0M244.2 629.3h1.0M244.9 615.7h1.0M244.4 614.6h1.0M244.4 606.0h1.0M245.6 636.4h1.0M245.4 635.2h1.0M245.8 634.7h1.0M245.6 635.4h1.0M245.9 634.5h1.0M245.3 633.5h1.0M245.9 631.9h1.0M245.6 630.5h1.0M246.1 627.4h1.0M246.1 624.4h1.0M245.7 623.6h1.0M245.3 622.1h1.0M245.4 621.0h1.0M246.0 618.8h1.0M245.8 615.0h1.0M245.6 607.5h1.0M245.5 593.0h1.0M246.3 637.4h1.0M246.9 636.8h1.0M247.0 637.0h1.0M246.6 636.7h1.0M246.2 635.8h1.0M246.9 635.8h1.0M247.0 636.0h1.0M246.7 635.2h1.0M246.8 635.0h1.0M246.5 635.2h1.0M247.0 635.0h1.0M246.2 633.9h1.0M247.0 633.5h1.0M246.9 632.9h1.0M247.0 632.2h1.0M246.4 632.6h1.0M246.2 630.5h1.0M246.8 630.5h1.0M246.8 629.4h1.0M246.4 629.2h1.0M246.1 621.0h1.0M246.7 621.5h1.0M247.0 617.5h1.0M247.1 617.2h1.0M247.5 637.0h1.0M247.6 637.4h1.0M247.7 636.6h1.0M247.9 636.4h1.0M247.1 636.6h1.0M248.1 635.7h1.0M247.3 636.1h1.0M247.6 635.4h1.0M247.4 634.5h1.0M247.3 631.9h1.0M247.9 630.3h1.0M247.2 627.3h1.0M248.0 627.3h1.0M248.0 622.4h1.0M247.6 612.0h1.0M247.5 601.4h1.0M248.3 637.2h1.0M248.8 636.7h1.0M248.6 636.8h1.0M249.0 636.4h1.0M248.1 636.3h1.0M248.7 635.2h1.0M248.4 634.4h1.0M249.0 633.8h1.0M248.6 631.9h1.0M248.8 630.8h1.0M248.8 628.7h1.0M248.8 627.0h1.0M248.1 627.2h1.0M248.5 624.3h1.0M248.3 624.3h1.0M248.3 610.7h1.0M248.5 608.7h1.0M248.8 609.3h1.0M249.1 637.5h1.0M249.6 637.3h1.0M250.0 637.4h1.0M249.9 634.7h1.0M249.1 634.7h1.0M249.9 633.1h1.0M249.8 632.7h1.0M249.4 633.0h1.0M250.0 631.4h1.0M249.9 630.7h1.0M249.3 629.0h1.0M249.2 623.6h1.0M249.2 580.4h1.0M250.3 632.9h1.0M250.5 633.2h1.0M250.2 632.3h1.0M251.0 631.6h1.0M250.2 631.8h1.0M250.2 627.9h1.0M250.7 627.1h1.0M251.0 623.1h1.0M250.2 621.0h1.0M251.1 619.1h1.0M251.0 618.1h1.0M250.7 593.5h1.0M251.9 637.2h1.0M251.6 636.6h1.0M251.1 635.6h1.0M251.6 634.6h1.0M251.3 634.7h1.0M252.0 631.1h1.0M251.5 630.5h1.0M251.6 628.7h1.0M251.7 628.9h1.0M251.4 625.7h1.0M251.8 621.3h1.0M251.9 620.4h1.0M251.5 618.0h1.0M251.4 617.0h1.0M251.6 605.5h1.0M251.5 604.1h1.0M251.3 587.5h1.0M251.5 580.5h1.0M253.0 636.9h1.0M252.8 635.9h1.0M252.2 635.2h1.0M252.7 635.5h1.0M252.5 635.1h1.0M252.5 633.9h1.0M252.4 632.8h1.0M252.6 632.0h1.0M253.0 630.1h1.0M253.0 629.3h1.0M252.9 626.4h1.0M252.3 613.7h1.0M252.7 607.8h1.0M253.5 637.2h1.0M253.5 636.0h1.0M253.5 635.4h1.0M253.6 633.4h1.0M253.1 629.6h1.0M253.6 628.5h1.0M253.9 626.9h1.0M253.7 626.7h1.0M253.1 620.2h1.0M253.5 618.0h1.0M253.6 617.7h1.0M253.1 616.5h1.0M253.7 615.9h1.0M253.2 611.6h1.0M253.2 607.8h1.0M254.7 637.1h1.0M254.7 637.2h1.0M254.4 636.3h1.0M254.8 636.1h1.0M255.0 635.8h1.0M254.4 636.5h1.0M255.0 636.2h1.0M254.9 635.0h1.0M254.3 635.4h1.0M254.9 632.7h1.0M255.0 633.1h1.0M254.6 631.3h1.0M254.2 628.3h1.0M254.9 626.0h1.0M254.6 626.3h1.0M254.7 625.2h1.0M254.3 623.0h1.0M254.9 620.0h1.0M254.6 620.0h1.0M256.0 636.3h1.0M255.8 635.6h1.0M255.1 635.5h1.0M255.9 634.3h1.0M255.2 632.9h1.0M255.3 629.4h1.0M255.6 627.9h1.0M255.6 627.0h1.0M256.0 627.5h1.0M255.8 626.8h1.0M255.9 627.5h1.0M255.2 627.0h1.0M256.1 624.7h1.0M255.1 625.0h1.0M255.5 613.3h1.0M255.2 610.2h1.0M256.0 579.2h1.0M256.0 574.6h1.0M256.3 637.1h1.0M256.2 636.6h1.0M256.3 633.2h1.0M256.1 632.3h1.0M256.2 630.9h1.0M256.8 629.9h1.0M256.3 629.8h1.0M257.0 629.7h1.0M256.2 628.9h1.0M257.1 626.5h1.0M256.5 624.5h1.0M257.0 623.2h1.0M256.3 621.4h1.0M256.2 620.1h1.0M256.6 618.1h1.0M256.5 610.0h1.0M256.6 606.7h1.0M257.0 603.8h1.0M257.9 637.5h1.0M257.4 637.1h1.0M257.8 636.0h1.0M258.1 636.4h1.0M257.3 635.6h1.0M257.3 635.0h1.0M257.4 635.0h1.0M257.5 635.1h1.0M257.7 635.1h1.0M257.2 634.4h1.0M257.7 633.7h1.0M257.1 632.8h1.0M258.1 632.7h1.0M257.3 633.3h1.0M257.5 632.5h1.0M257.5 622.5h1.0M257.1 581.9h1.0M257.8 571.0h1.0M258.7 637.2h1.0M258.6 637.3h1.0M259.0 636.4h1.0M258.2 635.2h1.0M258.8 635.1h1.0M258.2 634.3h1.0M258.5 633.3h1.0M258.2 632.2h1.0M259.0 626.4h1.0M258.6 624.7h1.0M258.2 625.0h1.0M258.7 621.7h1.0M258.7 616.8h1.0M259.1 610.4h1.0M259.4 635.1h1.0M259.9 635.0h1.0M259.7 635.6h1.0M260.1 634.2h1.0M259.2 634.6h1.0M259.8 632.6h1.0M259.6 631.9h1.0M259.1 632.2h1.0M259.4 630.7h1.0M260.1 631.1h1.0M259.3 630.5h1.0M259.9 628.3h1.0M259.4 622.5h1.0M259.2 616.7h1.0M259.3 606.4h1.0M260.4 635.9h1.0M260.2 636.3h1.0M260.9 635.9h1.0M260.7 634.0h1.0M260.3 633.8h1.0M260.4 633.0h1.0M260.3 633.1h1.0M260.3 632.0h1.0M261.0 631.4h1.0M260.9 625.7h1.0M260.2 625.4h1.0M260.7 623.1h1.0M260.4 621.1h1.0M261.1 619.9h1.0M260.2 615.4h1.0M261.6 635.7h1.0M262.0 634.9h1.0M261.5 635.4h1.0M261.3 634.0h1.0M261.6 634.2h1.0M261.3 631.0h1.0M261.2 631.1h1.0M261.5 630.3h1.0M261.2 625.9h1.0M261.3 621.6h1.0M261.5 612.5h1.0M262.1 603.1h1.0M262.4 636.3h1.0M262.6 635.2h1.0M263.0 634.2h1.0M263.0 631.2h1.0M262.3 627.6h1.0M262.4 627.8h1.0M262.1 627.0h1.0M262.3 613.6h1.0M262.3 591.5h1.0M263.8 636.8h1.0M263.9 636.0h1.0M263.8 634.9h1.0M263.9 634.8h1.0M264.0 635.0h1.0M263.5 632.3h1.0M264.1 630.9h1.0M263.2 625.4h1.0M263.3 624.5h1.0M263.8 623.1h1.0M263.5 621.0h1.0M264.0 614.1h1.0M263.5 609.9h1.0M264.0 606.9h1.0M263.9 606.4h1.0M264.4 637.4h1.0M264.7 636.3h1.0M264.8 636.4h1.0M264.9 635.8h1.0M264.9 632.8h1.0M264.5 631.8h1.0M264.1 624.9h1.0M265.0 618.1h1.0M264.2 603.0h1.0M265.4 637.4h1.0M266.1 635.6h1.0M266.1 635.2h1.0M265.9 633.7h1.0M265.7 633.0h1.0M265.4 633.2h1.0M265.3 631.4h1.0M265.6 629.6h1.0M265.6 628.0h1.0M265.3 625.9h1.0M265.4 618.8h1.0M266.0 607.2h1.0M266.1 594.1h1.0M266.7 637.2h1.0M266.7 635.8h1.0M267.0 635.7h1.0M267.0 636.5h1.0M266.6 635.1h1.0M266.5 633.7h1.0M266.5 628.5h1.0M266.8 626.3h1.0M266.5 626.6h1.0M266.5 622.6h1.0M266.1 620.6h1.0M266.6 619.7h1.0M266.6 619.7h1.0M266.8 604.8h1.0M268.1 635.6h1.0M267.9 636.4h1.0M267.5 633.2h1.0M267.5 633.6h1.0M268.1 632.1h1.0M267.4 631.1h1.0M267.6 629.1h1.0M267.1 624.7h1.0M268.0 622.5h1.0M267.5 619.5h1.0M267.8 619.2h1.0M267.7 607.2h1.0M267.7 605.6h1.0M268.5 636.9h1.0M268.2 635.9h1.0M268.3 636.1h1.0M268.4 634.9h1.0M268.6 633.7h1.0M268.3 633.1h1.0M268.5 633.0h1.0M268.5 631.7h1.0M268.3 617.7h1.0M268.9 607.0h1.0M268.4 589.9h1.0M270.0 635.7h1.0M269.5 634.2h1.0M269.5 634.4h1.0M269.8 631.9h1.0M269.4 626.3h1.0M269.7 623.2h1.0M269.3 622.2h1.0M269.8 601.3h1.0M270.3 637.6h1.0M270.6 637.1h1.0M270.6 636.1h1.0M270.1 632.9h1.0M270.3 632.0h1.0M270.4 632.4h1.0M271.0 631.3h1.0M270.8 627.7h1.0M270.6 623.9h1.0M270.5 620.3h1.0M270.9 617.7h1.0M271.1 637.9h1.0M271.8 637.7h1.0M271.9 636.3h1.0M271.2 636.7h1.0M271.9 634.9h1.0M271.7 635.2h1.0M271.9 635.6h1.0M271.2 634.2h1.0M272.0 633.2h1.0M271.5 633.8h1.0M271.5 632.1h1.0M271.2 631.2h1.0M271.7 628.3h1.0M271.5 628.6h1.0M271.8 627.0h1.0M271.1 620.2h1.0M271.4 615.9h1.0M271.7 605.0h1.0M273.0 637.8h1.0M273.0 635.2h1.0M272.3 635.3h1.0M272.8 633.1h1.0M272.9 626.9h1.0M272.9 621.7h1.0M272.6 558.1h1.0M273.9 637.2h1.0M273.2 636.3h1.0M273.2 635.3h1.0M273.7 634.7h1.0M273.8 634.0h1.0M273.2 634.2h1.0M273.3 633.8h1.0M273.9 633.8h1.0M274.1 632.9h1.0M273.9 627.0h1.0M273.3 618.5h1.0M273.5 618.5h1.0M275.0 637.8h1.0M274.3 637.0h1.0M274.5 635.9h1.0M274.3 636.1h1.0M274.3 635.8h1.0M274.5 633.6h1.0M274.2 630.8h1.0M274.4 628.4h1.0M274.4 627.2h1.0M274.1 624.1h1.0M276.1 638.5h1.0M275.6 635.6h1.0M275.6 636.4h1.0M275.9 634.9h1.0M275.6 616.8h1.0M275.5 613.3h1.0M276.5 638.5h1.0M276.3 637.7h1.0M276.3 638.5h1.0M276.1 634.8h1.0M276.7 634.9h1.0M276.6 634.8h1.0M277.0 635.5h1.0M276.4 634.0h1.0M276.2 632.3h1.0M276.7 620.7h1.0M276.7 615.0h1.0M277.3 638.6h1.0M277.4 638.7h1.0M277.7 636.0h1.0M277.2 635.8h1.0M277.2 636.0h1.0M277.2 635.7h1.0M277.6 633.4h1.0M277.8 628.2h1.0M278.0 628.1h1.0M278.4 638.9h1.0M278.7 637.0h1.0M278.4 637.6h1.0M278.7 636.6h1.0M278.1 635.2h1.0M278.3 634.3h1.0M278.8 633.0h1.0M278.9 633.3h1.0M278.4 632.1h1.0M278.3 630.0h1.0M278.6 626.5h1.0M279.2 638.5h1.0M279.3 638.5h1.0M279.9 637.6h1.0M279.2 637.4h1.0M279.4 637.3h1.0M279.8 636.3h1.0M279.9 636.7h1.0M280.1 636.2h1.0M279.7 635.7h1.0M279.8 635.2h1.0M279.2 634.2h1.0M279.6 625.5h1.0M279.8 616.0h1.0M280.0 608.1h1.0M281.1 638.6h1.0M280.5 638.3h1.0M280.1 639.0h1.0M281.0 637.3h1.0M281.0 636.8h1.0M280.8 637.0h1.0M280.6 635.7h1.0M281.0 635.3h1.0M280.6 635.8h1.0M280.9 636.3h1.0M281.0 635.2h1.0M281.0 635.2h1.0M280.4 633.7h1.0M280.6 634.3h1.0M280.5 631.7h1.0M280.7 631.7h1.0M280.4 632.2h1.0M280.9 623.0h1.0M280.9 604.0h1.0M282.1 638.9h1.0M281.2 638.5h1.0M281.6 637.7h1.0M281.4 638.1h1.0M281.3 638.1h1.0M281.3 637.3h1.0M281.6 632.2h1.0M282.0 627.7h1.0M281.8 626.1h1.0M281.4 610.9h1.0M282.1 609.6h1.0M281.3 609.4h1.0M281.5 606.0h1.0M282.1 601.8h1.0M282.7 637.7h1.0M282.8 636.7h1.0M282.6 635.0h1.0M282.6 635.4h1.0M282.3 631.4h1.0M282.2 630.3h1.0M282.8 628.4h1.0M282.7 624.2h1.0M184.0 571.8h1.0M182.5 587.5h1.0M190.5 591.0h1.0M189.2 615.6h1.0M174.0 619.0h1.0M229.5 583.0h1.0M230.5 596.0h1.0M218.5 602.0h1.0" stroke="#1785cc" stroke-width="2.0" stroke-linecap="square" fill="none"/>
<path d="M303.5 641.8V642.6M304.5 641.4V642.6M305.5 641.1V642.6M306.5 640.8V642.6M307.5 640.4V642.6M308.5 640.1V642.6M309.5 639.8V642.6M310.5 639.6V642.6M311.5 639.5V642.6M312.5 639.5V642.6M313.5 639.4V642.6M314.5 639.4V642.6M315.5 639.3V642.6M316.5 639.3V642.6M317.5 639.2V642.6M318.5 639.2V642.6M319.5 639.1V642.6M320.5 639.1V642.6M321.5 639.0V642.6M322.5 639.0V642.6M323.5 638.9V642.6M324.5 638.9V642.6M325.5 638.8V642.6M326.5 638.8V642.6M327.5 638.7V642.6M328.5 638.7V642.6M329.5 638.6V642.6M330.5 638.6V642.6M331.5 638.7V642.6M332.5 638.7V642.6M333.5 638.8V642.6M334.5 638.8V642.6M335.5 638.9V642.6M336.5 638.9V642.6M337.5 639.0V642.6M338.5 639.0V642.6M339.5 639.1V642.6M340.5 639.1V642.6M341.5 639.2V642.6M342.5 639.2V642.6M343.5 639.3V642.6M344.5 639.3V642.6M345.5 639.4V642.6M346.5 639.4V642.6M347.5 639.5V642.6M348.5 639.5V642.6M349.5 639.6V642.6M350.5 639.8V642.6M351.5 640.1V642.6M352.5 640.4V642.6M353.5 640.6V642.6M354.5 641.0V642.6M355.5 641.2V642.6M356.5 641.6V642.6M357.5 641.9V642.6" stroke="#e8191c" stroke-width="1.05" fill="none"/>
<path d="M299.1 640.0h1.0M299.0 636.2h1.0M300.4 642.5h1.0M299.6 641.8h1.0M299.7 641.6h1.0M300.4 639.0h1.0M299.9 636.6h1.0M299.7 635.0h1.0M299.6 635.6h1.0M300.7 642.0h1.0M301.3 641.0h1.0M301.0 640.5h1.0M301.4 639.7h1.0M301.5 639.1h1.0M300.8 638.5h1.0M302.2 641.9h1.0M301.7 642.4h1.0M302.1 640.5h1.0M302.5 639.9h1.0M302.4 640.1h1.0M301.7 639.1h1.0M302.3 639.4h1.0M302.3 639.3h1.0M302.4 637.4h1.0M301.8 636.5h1.0M301.5 635.2h1.0M301.9 629.5h1.0M303.2 640.5h1.0M303.1 639.8h1.0M302.9 638.2h1.0M302.7 636.3h1.0M303.1 633.9h1.0M303.2 634.5h1.0M302.5 632.9h1.0M304.0 641.3h1.0M304.2 639.8h1.0M304.2 638.5h1.0M304.1 635.1h1.0M304.2 632.7h1.0M304.2 632.3h1.0M304.4 631.5h1.0M303.9 630.9h1.0M304.0 630.2h1.0M304.8 640.8h1.0M305.4 640.6h1.0M304.7 639.2h1.0M304.8 639.3h1.0M305.1 637.4h1.0M304.9 637.3h1.0M304.6 636.2h1.0M304.7 635.3h1.0M304.9 635.9h1.0M304.6 633.5h1.0M305.5 633.2h1.0M305.0 633.8h1.0M304.6 631.0h1.0M306.2 640.3h1.0M306.5 639.3h1.0M306.3 639.4h1.0M305.5 639.0h1.0M305.6 638.7h1.0M305.7 635.3h1.0M305.8 633.5h1.0M305.8 632.1h1.0M306.0 632.8h1.0M306.0 623.3h1.0M305.9 622.1h1.0M305.7 615.8h1.0M307.0 640.2h1.0M307.3 639.1h1.0M307.3 638.4h1.0M307.4 636.4h1.0M306.6 637.0h1.0M307.3 636.9h1.0M306.9 636.3h1.0M306.8 632.8h1.0M307.1 631.7h1.0M307.2 629.6h1.0M307.4 627.9h1.0M307.4 628.1h1.0M307.5 614.7h1.0M307.0 611.5h1.0M307.7 639.3h1.0M308.3 639.2h1.0M308.4 639.2h1.0M307.7 639.7h1.0M307.8 640.0h1.0M307.6 638.7h1.0M308.1 637.4h1.0M308.1 637.1h1.0M308.0 635.5h1.0M307.7 633.5h1.0M307.8 632.5h1.0M308.1 630.7h1.0M308.3 630.1h1.0M307.8 628.0h1.0M307.9 622.2h1.0M307.6 620.9h1.0M308.6 639.3h1.0M308.9 638.4h1.0M308.6 636.8h1.0M309.2 637.0h1.0M309.2 636.1h1.0M308.6 635.5h1.0M309.3 634.6h1.0M309.0 634.0h1.0M308.8 633.2h1.0M308.8 632.1h1.0M309.5 630.9h1.0M309.5 625.9h1.0M308.9 624.4h1.0M309.1 622.9h1.0M308.6 621.1h1.0M309.8 639.4h1.0M310.5 638.9h1.0M310.3 638.9h1.0M309.9 638.3h1.0M309.8 637.9h1.0M309.9 636.7h1.0M310.2 636.9h1.0M310.4 635.6h1.0M309.9 636.3h1.0M310.4 635.9h1.0M310.1 634.8h1.0M309.7 633.6h1.0M309.8 629.8h1.0M309.7 629.0h1.0M310.5 624.5h1.0M310.0 622.3h1.0M310.5 639.4h1.0M311.4 638.3h1.0M311.0 634.7h1.0M311.3 635.2h1.0M311.1 635.0h1.0M310.8 635.1h1.0M311.1 633.2h1.0M311.2 633.4h1.0M310.8 632.3h1.0M310.6 632.5h1.0M310.6 630.6h1.0M310.9 628.0h1.0M310.6 624.3h1.0M311.3 620.1h1.0M311.8 638.6h1.0M312.2 637.7h1.0M312.1 638.3h1.0M311.9 638.4h1.0M312.3 638.5h1.0M312.3 636.6h1.0M312.3 636.9h1.0M312.2 636.6h1.0M312.0 635.4h1.0M311.8 634.1h1.0M312.2 632.6h1.0M312.0 633.0h1.0M311.5 631.8h1.0M312.4 631.0h1.0M312.2 629.7h1.0M311.7 627.6h1.0M311.6 626.6h1.0M312.4 626.2h1.0M311.9 622.6h1.0M312.4 619.9h1.0M312.6 638.6h1.0M312.6 638.9h1.0M313.4 636.6h1.0M313.4 636.9h1.0M312.6 637.2h1.0M313.4 636.3h1.0M312.9 635.6h1.0M312.9 636.2h1.0M312.7 634.0h1.0M312.7 633.5h1.0M312.8 633.7h1.0M312.9 632.3h1.0M313.2 630.4h1.0M312.8 626.7h1.0M313.4 625.7h1.0M313.0 623.9h1.0M314.0 639.0h1.0M314.1 638.5h1.0M313.6 638.2h1.0M314.1 638.3h1.0M313.9 638.1h1.0M314.2 635.5h1.0M313.9 635.4h1.0M314.2 635.3h1.0M314.5 633.6h1.0M313.9 633.4h1.0M313.9 632.9h1.0M313.7 631.7h1.0M313.8 631.5h1.0M314.2 630.8h1.0M313.6 628.4h1.0M314.3 626.5h1.0M313.5 623.0h1.0M314.3 590.7h1.0M314.8 639.0h1.0M315.1 639.2h1.0M315.4 638.1h1.0M314.7 636.9h1.0M314.8 636.4h1.0M315.3 636.6h1.0M315.4 636.6h1.0M314.7 636.5h1.0M314.7 635.4h1.0M315.4 635.5h1.0M315.1 636.3h1.0M315.2 634.8h1.0M314.8 634.6h1.0M314.8 634.3h1.0M314.7 632.3h1.0M315.0 621.9h1.0M314.8 619.5h1.0M315.0 618.4h1.0M316.4 639.2h1.0M315.8 637.8h1.0M315.9 636.6h1.0M316.3 636.0h1.0M315.7 635.8h1.0M316.3 635.0h1.0M316.0 627.7h1.0M315.7 625.8h1.0M315.6 615.8h1.0M316.2 608.6h1.0M317.0 638.3h1.0M317.3 638.6h1.0M316.7 637.5h1.0M316.6 638.0h1.0M316.9 638.2h1.0M317.1 637.5h1.0M316.7 637.4h1.0M316.9 636.4h1.0M316.7 634.0h1.0M316.5 627.2h1.0M316.6 626.6h1.0M316.5 624.5h1.0M316.7 624.3h1.0M317.0 618.5h1.0M318.4 638.4h1.0M317.9 638.5h1.0M317.9 638.6h1.0M318.3 637.3h1.0M317.6 636.7h1.0M318.4 636.8h1.0M317.9 636.9h1.0M318.5 635.6h1.0M318.5 634.2h1.0M317.7 632.6h1.0M318.2 631.9h1.0M318.1 629.5h1.0M318.4 630.0h1.0M317.9 628.2h1.0M318.0 627.4h1.0M318.1 614.4h1.0M318.1 607.2h1.0M318.9 637.4h1.0M319.5 636.2h1.0M319.0 636.0h1.0M319.3 635.2h1.0M318.9 634.7h1.0M319.3 634.9h1.0M319.2 632.6h1.0M319.0 631.8h1.0M319.1 630.8h1.0M319.3 629.5h1.0M319.2 625.6h1.0M318.6 624.1h1.0M318.9 616.2h1.0M318.6 615.9h1.0M318.9 615.2h1.0M318.8 604.2h1.0M319.8 637.7h1.0M319.7 637.6h1.0M320.2 637.6h1.0M320.3 637.2h1.0M319.5 637.8h1.0M320.1 636.7h1.0M320.0 636.5h1.0M319.7 636.1h1.0M319.7 636.4h1.0M319.9 635.8h1.0M320.0 635.6h1.0M319.8 634.6h1.0M320.2 634.8h1.0M319.9 633.3h1.0M320.3 634.1h1.0M320.1 633.3h1.0M319.9 633.3h1.0M319.6 633.8h1.0M320.0 633.8h1.0M319.7 632.2h1.0M320.2 629.8h1.0M319.6 628.0h1.0M319.8 626.0h1.0M320.0 624.5h1.0M320.5 623.8h1.0M320.0 621.8h1.0M320.5 638.6h1.0M320.7 637.7h1.0M321.4 636.4h1.0M320.8 637.0h1.0M320.8 635.9h1.0M321.1 635.2h1.0M320.8 634.3h1.0M320.9 634.6h1.0M321.5 634.5h1.0M321.1 632.8h1.0M320.5 632.4h1.0M320.7 632.7h1.0M321.3 633.0h1.0M321.3 632.4h1.0M320.8 630.4h1.0M320.8 629.3h1.0M321.3 629.6h1.0M321.2 626.8h1.0M320.8 626.3h1.0M321.4 623.8h1.0M320.6 619.5h1.0M320.8 618.3h1.0M321.1 613.3h1.0M322.2 638.8h1.0M321.9 638.3h1.0M322.5 637.0h1.0M322.2 637.7h1.0M321.9 637.8h1.0M322.0 637.0h1.0M322.3 636.0h1.0M321.8 636.3h1.0M321.8 634.1h1.0M322.2 634.3h1.0M322.1 634.5h1.0M322.3 634.4h1.0M321.7 634.7h1.0M322.5 634.0h1.0M322.5 633.2h1.0M322.4 632.8h1.0M322.2 631.2h1.0M321.9 631.2h1.0M322.3 629.0h1.0M322.2 629.9h1.0M322.3 628.9h1.0M321.6 627.1h1.0M322.2 624.3h1.0M321.9 624.0h1.0M321.6 617.5h1.0M323.1 638.0h1.0M323.2 637.1h1.0M322.7 636.1h1.0M323.4 636.1h1.0M322.9 636.1h1.0M323.0 635.8h1.0M322.8 635.7h1.0M323.1 634.0h1.0M323.1 634.2h1.0M323.3 633.1h1.0M322.6 633.6h1.0M323.3 632.4h1.0M323.3 631.8h1.0M322.9 628.6h1.0M323.3 628.3h1.0M323.3 628.1h1.0M323.1 617.6h1.0M323.4 602.5h1.0M324.4 637.9h1.0M323.9 638.1h1.0M324.0 637.7h1.0M324.0 637.2h1.0M324.4 637.1h1.0M323.8 637.6h1.0M324.0 636.0h1.0M323.6 635.8h1.0M324.3 634.1h1.0M324.1 633.5h1.0M324.5 633.8h1.0M324.0 633.0h1.0M324.0 632.4h1.0M324.1 631.6h1.0M323.9 629.2h1.0M324.0 628.0h1.0M323.9 628.7h1.0M323.5 627.6h1.0M324.2 625.5h1.0M323.8 621.2h1.0M325.3 638.1h1.0M325.2 638.3h1.0M325.4 636.7h1.0M325.4 635.4h1.0M325.1 633.8h1.0M324.8 632.9h1.0M324.6 633.3h1.0M325.1 631.9h1.0M325.1 631.9h1.0M325.0 631.9h1.0M325.3 631.2h1.0M324.8 627.1h1.0M325.3 616.0h1.0M325.5 611.7h1.0M325.2 607.1h1.0M326.3 637.0h1.0M325.9 637.2h1.0M325.8 637.2h1.0M325.6 636.1h1.0M325.6 636.1h1.0M325.8 636.0h1.0M326.3 635.4h1.0M326.0 635.2h1.0M325.6 635.1h1.0M325.9 635.1h1.0M326.5 635.7h1.0M325.6 633.8h1.0M326.0 630.5h1.0M326.3 629.6h1.0M325.9 628.2h1.0M325.8 627.5h1.0M326.4 624.1h1.0M325.6 624.6h1.0M325.9 617.8h1.0M326.4 613.8h1.0M325.8 612.5h1.0M327.3 638.3h1.0M327.4 638.2h1.0M326.9 635.8h1.0M327.3 632.9h1.0M327.3 633.3h1.0M327.1 633.0h1.0M326.6 632.5h1.0M327.0 631.1h1.0M326.7 630.8h1.0M327.4 630.5h1.0M326.6 628.9h1.0M326.7 627.0h1.0M326.5 627.3h1.0M327.1 625.1h1.0M327.2 620.7h1.0M327.0 619.8h1.0M326.7 597.3h1.0M328.4 637.8h1.0M327.9 638.1h1.0M327.9 637.8h1.0M327.6 636.7h1.0M328.5 636.3h1.0M327.5 636.0h1.0M327.9 635.8h1.0M327.5 635.1h1.0M328.4 635.5h1.0M327.8 633.0h1.0M327.6 632.7h1.0M327.6 632.4h1.0M328.0 630.3h1.0M328.3 627.3h1.0M328.1 626.1h1.0M327.8 621.6h1.0M328.4 621.6h1.0M327.8 619.6h1.0M328.6 638.6h1.0M329.1 637.4h1.0M329.5 637.6h1.0M328.6 637.2h1.0M329.2 636.1h1.0M329.4 634.8h1.0M329.4 632.4h1.0M328.6 630.6h1.0M329.3 626.1h1.0M328.5 625.6h1.0M329.4 624.6h1.0M328.6 622.6h1.0M328.9 618.5h1.0M329.5 608.3h1.0M330.3 638.3h1.0M330.1 637.7h1.0M329.7 638.1h1.0M330.3 638.3h1.0M329.6 637.4h1.0M330.2 637.3h1.0M330.5 635.6h1.0M329.5 635.2h1.0M330.2 633.8h1.0M330.0 634.0h1.0M329.8 632.8h1.0M329.9 632.9h1.0M330.1 632.7h1.0M329.6 632.2h1.0M329.8 632.2h1.0M329.5 630.7h1.0M329.9 628.9h1.0M329.7 627.8h1.0M330.0 626.5h1.0M330.1 623.0h1.0M330.0 623.4h1.0M329.7 622.2h1.0M329.8 618.5h1.0M329.6 617.4h1.0M331.3 638.2h1.0M331.3 636.9h1.0M331.5 635.8h1.0M330.9 635.9h1.0M330.8 634.8h1.0M331.3 634.9h1.0M330.9 634.7h1.0M331.4 635.7h1.0M330.7 635.5h1.0M331.5 634.2h1.0M331.2 633.2h1.0M330.7 632.0h1.0M331.2 631.2h1.0M330.8 618.6h1.0M330.5 612.6h1.0M330.8 604.2h1.0M330.9 580.9h1.0M331.6 638.2h1.0M331.8 638.6h1.0M331.8 637.5h1.0M331.9 637.5h1.0M331.6 637.5h1.0M331.8 635.9h1.0M331.7 635.5h1.0M332.3 634.3h1.0M332.2 632.3h1.0M332.1 630.8h1.0M332.2 630.2h1.0M332.1 626.6h1.0M332.1 623.0h1.0M332.2 599.9h1.0M333.2 637.9h1.0M332.8 638.1h1.0M332.6 638.1h1.0M332.6 637.3h1.0M333.0 637.1h1.0M332.9 637.2h1.0M333.3 637.1h1.0M333.2 636.4h1.0M333.1 635.6h1.0M333.5 633.8h1.0M332.9 634.2h1.0M332.5 633.1h1.0M333.4 631.9h1.0M333.5 631.9h1.0M332.9 630.3h1.0M333.3 630.5h1.0M333.1 628.8h1.0M333.3 627.2h1.0M332.6 626.8h1.0M333.4 624.4h1.0M333.4 617.0h1.0M333.9 638.7h1.0M334.4 637.8h1.0M334.1 636.0h1.0M334.1 636.5h1.0M333.9 636.1h1.0M333.9 635.4h1.0M334.1 635.7h1.0M333.7 635.4h1.0M334.1 635.1h1.0M333.6 634.3h1.0M333.7 632.1h1.0M333.9 631.0h1.0M334.3 630.9h1.0M334.3 631.4h1.0M334.1 629.7h1.0M334.1 627.1h1.0M334.2 613.6h1.0M335.2 637.9h1.0M335.0 637.9h1.0M335.3 638.7h1.0M334.8 638.3h1.0M334.8 637.6h1.0M334.8 637.4h1.0M335.1 637.8h1.0M334.8 637.6h1.0M334.8 634.2h1.0M334.8 632.9h1.0M335.2 633.4h1.0M335.0 633.2h1.0M335.1 632.7h1.0M335.2 628.9h1.0M334.6 621.7h1.0M334.7 617.8h1.0M336.0 638.4h1.0M336.4 638.1h1.0M336.2 638.2h1.0M336.0 637.0h1.0M336.2 637.4h1.0M336.3 636.8h1.0M335.5 636.5h1.0M335.8 636.3h1.0M335.9 636.3h1.0M335.8 635.3h1.0M336.4 635.6h1.0M335.6 635.1h1.0M336.2 634.7h1.0M336.2 634.3h1.0M336.1 633.9h1.0M336.2 632.7h1.0M336.3 631.0h1.0M335.8 631.5h1.0M336.0 630.1h1.0M335.8 630.4h1.0M336.4 625.0h1.0M336.2 610.6h1.0M335.7 600.5h1.0M336.9 638.1h1.0M336.8 637.3h1.0M337.4 637.4h1.0M337.2 637.0h1.0M336.6 636.9h1.0M336.7 635.5h1.0M337.0 635.4h1.0M336.8 634.5h1.0M337.3 634.2h1.0M336.7 633.8h1.0M336.9 631.4h1.0M337.0 631.8h1.0M336.7 629.8h1.0M336.9 628.9h1.0M336.8 627.0h1.0M337.0 626.1h1.0M337.0 615.9h1.0M337.3 611.9h1.0M336.9 605.5h1.0M338.1 638.9h1.0M338.2 638.5h1.0M337.9 638.2h1.0M337.5 638.2h1.0M338.2 637.9h1.0M337.5 637.5h1.0M337.9 637.0h1.0M338.0 637.0h1.0M338.0 636.2h1.0M337.8 636.3h1.0M338.1 635.5h1.0M338.5 633.3h1.0M337.7 633.2h1.0M337.7 632.6h1.0M338.3 631.9h1.0M338.1 627.5h1.0M337.7 626.5h1.0M337.9 618.2h1.0M337.5 598.6h1.0M338.6 638.6h1.0M339.4 638.8h1.0M339.1 639.1h1.0M339.3 637.2h1.0M339.3 637.1h1.0M338.9 635.4h1.0M339.2 635.6h1.0M339.3 636.1h1.0M338.6 634.6h1.0M338.9 634.3h1.0M339.2 634.5h1.0M338.6 631.5h1.0M338.6 630.5h1.0M338.6 630.0h1.0M338.7 623.7h1.0M338.5 620.9h1.0M340.4 638.7h1.0M340.0 639.1h1.0M340.4 638.7h1.0M340.1 638.0h1.0M339.8 636.3h1.0M340.4 636.2h1.0M339.7 637.1h1.0M340.0 635.8h1.0M340.5 635.3h1.0M340.4 634.6h1.0M340.5 634.0h1.0M340.2 634.0h1.0M339.8 633.6h1.0M340.3 633.9h1.0M339.7 631.7h1.0M339.8 629.1h1.0M339.8 628.8h1.0M339.5 627.6h1.0M340.5 611.9h1.0M339.9 595.3h1.0M340.8 638.5h1.0M340.9 638.8h1.0M340.5 638.1h1.0M340.9 637.5h1.0M340.6 636.8h1.0M341.5 636.0h1.0M341.4 631.0h1.0M340.7 630.3h1.0M340.5 630.5h1.0M340.8 628.4h1.0M340.8 628.9h1.0M341.0 627.6h1.0M341.3 622.6h1.0M340.7 622.7h1.0M341.2 618.2h1.0M340.7 610.2h1.0M342.0 638.6h1.0M341.6 639.2h1.0M342.2 638.1h1.0M342.3 637.1h1.0M342.4 636.8h1.0M341.5 635.2h1.0M341.6 635.9h1.0M341.9 635.5h1.0M341.7 634.5h1.0M341.8 634.6h1.0M342.4 634.4h1.0M341.8 634.2h1.0M342.3 631.3h1.0M342.0 614.7h1.0M342.3 612.4h1.0M342.2 613.1h1.0M342.3 604.4h1.0M341.8 605.1h1.0M342.4 591.3h1.0M343.3 638.9h1.0M343.5 638.1h1.0M342.7 637.8h1.0M342.5 637.5h1.0M342.7 635.7h1.0M343.0 634.0h1.0M342.8 632.9h1.0M343.0 631.8h1.0M343.3 628.4h1.0M343.2 627.4h1.0M342.9 625.9h1.0M342.7 619.5h1.0M343.5 616.6h1.0M342.6 607.1h1.0M343.6 638.5h1.0M344.3 639.1h1.0M344.3 637.0h1.0M343.5 637.3h1.0M344.5 636.5h1.0M344.3 636.0h1.0M343.6 634.4h1.0M343.5 634.8h1.0M344.1 634.6h1.0M343.9 634.3h1.0M344.1 634.8h1.0M343.9 633.5h1.0M343.9 633.9h1.0M343.8 633.0h1.0M344.2 630.6h1.0M344.3 626.0h1.0M344.5 624.9h1.0M343.9 624.4h1.0M344.4 620.8h1.0M344.3 614.5h1.0M344.3 604.9h1.0M344.5 601.3h1.0M343.7 600.3h1.0M344.5 584.5h1.0M344.7 638.6h1.0M345.3 638.9h1.0M344.9 638.6h1.0M344.8 638.6h1.0M345.3 637.7h1.0M344.7 637.5h1.0M344.7 636.4h1.0M345.1 636.1h1.0M345.3 634.6h1.0M345.4 634.7h1.0M345.1 634.1h1.0M344.9 633.5h1.0M344.6 632.2h1.0M344.7 631.5h1.0M344.6 632.3h1.0M345.4 630.6h1.0M345.2 630.2h1.0M344.6 628.6h1.0M345.3 625.1h1.0M345.2 622.4h1.0M345.4 622.1h1.0M345.1 619.0h1.0M344.5 614.1h1.0M344.6 613.2h1.0M346.0 638.3h1.0M345.7 637.5h1.0M346.1 637.9h1.0M346.4 637.3h1.0M345.9 637.2h1.0M346.3 636.1h1.0M346.3 635.6h1.0M345.6 635.7h1.0M346.1 634.7h1.0M346.2 634.8h1.0M346.0 634.5h1.0M346.1 634.0h1.0M346.0 628.5h1.0M346.1 628.2h1.0M345.9 626.2h1.0M346.2 624.1h1.0M345.7 622.4h1.0M345.9 620.6h1.0M346.0 618.9h1.0M346.5 616.2h1.0M346.3 613.8h1.0M345.7 608.2h1.0M346.2 590.2h1.0M347.2 639.4h1.0M347.0 639.0h1.0M347.0 639.3h1.0M347.4 638.5h1.0M347.3 637.9h1.0M347.1 635.7h1.0M347.0 636.2h1.0M347.0 636.1h1.0M347.3 634.5h1.0M347.4 633.7h1.0M346.7 632.7h1.0M346.6 632.8h1.0M347.4 631.8h1.0M347.2 631.4h1.0M347.0 627.6h1.0M346.7 623.8h1.0M347.4 622.6h1.0M346.9 620.3h1.0M346.5 618.1h1.0M347.0 617.2h1.0M346.8 614.1h1.0M347.4 607.6h1.0M346.8 604.6h1.0M347.3 600.8h1.0M348.3 639.5h1.0M348.1 639.0h1.0M348.1 638.7h1.0M347.6 638.6h1.0M347.5 639.3h1.0M347.7 637.9h1.0M347.7 637.3h1.0M348.2 635.5h1.0M348.0 635.4h1.0M348.3 634.4h1.0M347.9 632.3h1.0M347.6 632.1h1.0M348.4 631.9h1.0M347.9 632.4h1.0M348.0 630.8h1.0M347.8 628.4h1.0M348.5 625.9h1.0M348.0 625.2h1.0M348.0 625.5h1.0M348.0 623.0h1.0M347.7 620.4h1.0M348.6 639.1h1.0M349.5 638.5h1.0M348.9 638.4h1.0M349.3 637.9h1.0M349.3 638.4h1.0M349.0 637.9h1.0M349.2 638.3h1.0M348.8 637.7h1.0M348.6 637.2h1.0M349.4 636.5h1.0M348.8 636.3h1.0M348.6 633.6h1.0M348.7 630.5h1.0M349.5 625.5h1.0M348.9 618.4h1.0M348.5 614.1h1.0M350.5 639.6h1.0M350.3 639.6h1.0M350.5 639.5h1.0M349.9 638.5h1.0M349.6 636.9h1.0M350.0 637.2h1.0M350.2 636.2h1.0M350.3 635.7h1.0M349.9 634.0h1.0M349.6 633.8h1.0M350.0 633.5h1.0M349.8 623.7h1.0M350.2 618.2h1.0M351.2 639.7h1.0M351.1 637.2h1.0M351.0 637.5h1.0M351.1 638.0h1.0M350.9 636.5h1.0M350.9 636.1h1.0M351.3 636.7h1.0M350.9 634.1h1.0M350.7 633.8h1.0M351.2 633.0h1.0M351.4 629.7h1.0M351.0 626.1h1.0M351.1 620.2h1.0M351.5 608.4h1.0M352.3 640.3h1.0M352.2 639.7h1.0M352.4 639.5h1.0M351.5 640.0h1.0M351.6 639.0h1.0M352.5 639.2h1.0M351.8 638.9h1.0M352.0 638.5h1.0M352.1 637.9h1.0M352.5 637.1h1.0M352.4 635.6h1.0M352.5 635.6h1.0M352.4 632.8h1.0M352.5 632.5h1.0M352.5 632.5h1.0M351.7 632.1h1.0M352.1 630.8h1.0M352.0 625.2h1.0M351.7 619.4h1.0M351.6 620.2h1.0M351.8 616.3h1.0M352.3 612.1h1.0M352.3 591.5h1.0M353.5 639.8h1.0M353.4 640.0h1.0M352.6 638.1h1.0M352.6 638.1h1.0M353.2 637.3h1.0M352.6 635.2h1.0M353.5 635.5h1.0M353.5 633.9h1.0M353.0 634.3h1.0M353.0 634.3h1.0M353.5 629.6h1.0M353.0 628.7h1.0M352.8 626.2h1.0M353.4 626.5h1.0M353.0 617.7h1.0M353.1 616.2h1.0M352.8 607.3h1.0M352.9 607.0h1.0M353.4 591.4h1.0M352.8 587.7h1.0M354.4 640.7h1.0M354.4 640.8h1.0M354.3 640.7h1.0M354.5 639.4h1.0M353.9 639.3h1.0M353.9 638.4h1.0M354.2 637.0h1.0M354.3 637.0h1.0M354.3 636.5h1.0M354.1 635.6h1.0M354.5 633.8h1.0M354.4 630.5h1.0M353.8 625.3h1.0M353.9 610.7h1.0M354.5 599.3h1.0M353.9 594.5h1.0M353.8 592.0h1.0M355.0 641.2h1.0M354.6 641.0h1.0M354.6 640.5h1.0M355.3 640.0h1.0M354.9 639.8h1.0M355.3 640.1h1.0M355.1 638.8h1.0M355.0 637.9h1.0M355.1 637.6h1.0M355.1 637.2h1.0M355.5 636.4h1.0M355.3 634.4h1.0M355.4 634.2h1.0M355.3 633.5h1.0M355.4 633.1h1.0M355.3 631.4h1.0M355.1 630.0h1.0M354.6 628.4h1.0M354.6 624.7h1.0M355.1 622.9h1.0M354.5 619.7h1.0M355.0 612.7h1.0M355.4 610.3h1.0M355.4 607.6h1.0M356.0 640.8h1.0M356.1 641.5h1.0M355.7 640.5h1.0M355.9 640.2h1.0M356.5 637.6h1.0M356.5 637.2h1.0M355.8 637.2h1.0M355.8 636.4h1.0M355.8 633.5h1.0M355.8 633.1h1.0M356.1 632.0h1.0M355.9 632.3h1.0M356.0 630.6h1.0M356.5 629.9h1.0M355.8 626.5h1.0M356.4 626.2h1.0M356.1 625.2h1.0M355.9 624.0h1.0M355.6 621.6h1.0M355.9 613.1h1.0M355.6 611.8h1.0M356.6 640.9h1.0M356.6 641.7h1.0M357.1 641.3h1.0M357.3 641.0h1.0M357.0 639.9h1.0M357.4 639.6h1.0M357.1 639.2h1.0M357.4 639.5h1.0M357.0 638.2h1.0M357.3 635.0h1.0M356.5 631.9h1.0M357.1 629.2h1.0M357.1 622.1h1.0M356.8 616.9h1.0M356.9 611.9h1.0M358.0 642.4h1.0M357.7 642.0h1.0M357.9 640.0h1.0M357.5 639.9h1.0M357.9 639.5h1.0M357.5 639.2h1.0M358.2 638.3h1.0M358.5 636.9h1.0M358.3 636.6h1.0M358.0 636.5h1.0M358.0 635.0h1.0M357.8 634.4h1.0M357.5 634.4h1.0M358.4 633.0h1.0M358.1 631.5h1.0M358.0 630.8h1.0M357.6 625.3h1.0M358.1 619.3h1.0M357.6 600.2h1.0M358.8 641.8h1.0M359.4 642.2h1.0M358.9 642.2h1.0M359.2 640.7h1.0M359.1 639.1h1.0M358.7 638.3h1.0M358.5 637.3h1.0M359.2 627.3h1.0M359.4 627.9h1.0M359.0 625.3h1.0M358.5 617.4h1.0M359.2 608.8h1.0M359.4 606.2h1.0M358.6 586.3h1.0M358.8 587.2h1.0M359.8 641.5h1.0M360.2 641.6h1.0M359.9 640.5h1.0M360.0 640.1h1.0M360.1 639.4h1.0M360.1 635.4h1.0M360.1 634.5h1.0M360.2 633.7h1.0M360.3 632.1h1.0M360.4 632.7h1.0M360.0 630.7h1.0M359.6 630.3h1.0M359.9 629.4h1.0M360.3 622.0h1.0M359.9 619.6h1.0M359.6 618.1h1.0M360.4 610.1h1.0M359.8 607.5h1.0M360.8 641.5h1.0M361.3 641.4h1.0M360.6 640.7h1.0M361.3 639.9h1.0M361.3 639.5h1.0M361.4 638.4h1.0M361.1 633.9h1.0M361.4 631.5h1.0M360.7 630.9h1.0M360.9 629.9h1.0M360.7 628.3h1.0M361.4 622.8h1.0M361.2 621.4h1.0M361.2 620.8h1.0M361.1 619.7h1.0M361.1 609.5h1.0M360.8 604.5h1.0M362.3 641.2h1.0M361.7 641.4h1.0M361.7 639.0h1.0M362.2 638.4h1.0M362.3 636.2h1.0M361.7 634.6h1.0M362.4 635.6h1.0M362.0 633.9h1.0M361.9 634.2h1.0M362.4 628.3h1.0M362.5 627.3h1.0M361.6 624.4h1.0M362.3 624.3h1.0M361.9 610.0h1.0M362.1 606.3h1.0M361.7 591.9h1.0M363.2 640.8h1.0M362.7 640.8h1.0M362.9 640.2h1.0M363.1 639.6h1.0M363.0 635.0h1.0M363.0 630.2h1.0M363.5 620.6h1.0M363.0 618.9h1.0M363.0 617.6h1.0M362.7 611.9h1.0M362.8 587.5h1.0M363.7 637.3h1.0M364.2 635.5h1.0M364.2 634.0h1.0M364.2 631.9h1.0M363.7 630.4h1.0M363.8 628.0h1.0M363.6 626.0h1.0M364.0 623.3h1.0M363.8 622.3h1.0M363.9 622.2h1.0M364.5 619.9h1.0M363.7 609.6h1.0M363.8 606.1h1.0M365.2 640.9h1.0M365.2 640.9h1.0M365.1 640.5h1.0M365.1 639.8h1.0M365.0 639.9h1.0M364.8 639.8h1.0M364.8 639.3h1.0M365.1 637.9h1.0M364.7 633.3h1.0M365.5 632.1h1.0M364.9 631.5h1.0M364.6 628.2h1.0M365.4 628.7h1.0M365.1 628.2h1.0M364.8 627.1h1.0M364.9 613.1h1.0M364.8 609.6h1.0M364.7 603.7h1.0M365.1 601.7h1.0M366.0 635.1h1.0M366.3 632.4h1.0M366.2 630.1h1.0M365.6 618.8h1.0M365.9 618.9h1.0M365.6 608.0h1.0M367.5 639.9h1.0M366.8 640.6h1.0M367.3 638.8h1.0M366.8 635.3h1.0M367.4 634.7h1.0M366.7 633.3h1.0M367.2 630.7h1.0M367.0 629.6h1.0M367.4 622.0h1.0M366.6 622.5h1.0M366.7 620.8h1.0M367.1 612.0h1.0M366.6 609.4h1.0M367.1 602.1h1.0M367.0 601.2h1.0M366.6 596.8h1.0M368.5 639.7h1.0M367.7 640.1h1.0M368.1 639.6h1.0M368.3 639.9h1.0M368.5 638.4h1.0M367.6 638.2h1.0M367.5 636.6h1.0M367.6 633.6h1.0M367.6 633.6h1.0M368.3 631.8h1.0M368.4 632.1h1.0M368.5 630.9h1.0M367.8 630.9h1.0M367.6 629.3h1.0M368.0 625.0h1.0M367.9 618.2h1.0M368.2 614.8h1.0M368.3 611.8h1.0M368.9 637.6h1.0M369.5 636.0h1.0M369.4 634.0h1.0M369.1 628.9h1.0M369.1 623.4h1.0M368.5 607.5h1.0M369.3 595.9h1.0M369.8 638.2h1.0M369.7 636.1h1.0M370.1 635.7h1.0M369.7 630.2h1.0M369.9 630.1h1.0M370.4 627.0h1.0M370.1 622.0h1.0M370.4 588.2h1.0M371.1 639.5h1.0M371.2 638.6h1.0M371.2 637.4h1.0M371.3 637.5h1.0M370.8 632.7h1.0M371.5 630.2h1.0M370.5 629.8h1.0M370.7 629.3h1.0M370.5 628.1h1.0M371.4 624.8h1.0M370.7 622.2h1.0M372.3 637.9h1.0M372.4 634.6h1.0M372.2 632.1h1.0M372.2 623.3h1.0M372.4 601.2h1.0M373.1 638.2h1.0M373.4 638.1h1.0M373.2 633.7h1.0M373.0 633.8h1.0M373.4 632.5h1.0M373.0 629.0h1.0M373.2 613.8h1.0M373.6 637.4h1.0M373.5 636.0h1.0M373.6 634.9h1.0M373.9 635.5h1.0M373.6 634.2h1.0M373.9 630.6h1.0M374.1 630.6h1.0M374.4 628.7h1.0M374.3 597.3h1.0M375.3 634.5h1.0M375.2 628.9h1.0M374.6 629.4h1.0M375.3 627.5h1.0M375.2 599.7h1.0M374.9 594.8h1.0M376.1 638.2h1.0M376.3 633.8h1.0M375.6 627.7h1.0M375.7 626.9h1.0M376.3 623.8h1.0M375.9 623.8h1.0M375.7 621.6h1.0M375.9 615.0h1.0M376.3 613.9h1.0M376.5 599.2h1.0M376.1 576.7h1.0M376.6 635.6h1.0M376.9 628.7h1.0M377.1 625.0h1.0M376.6 623.8h1.0M377.5 613.9h1.0M378.4 636.7h1.0M377.5 636.6h1.0M378.2 637.0h1.0M378.3 636.1h1.0M378.2 635.1h1.0M377.7 633.9h1.0M377.9 634.3h1.0M378.0 631.7h1.0M377.5 625.2h1.0M377.6 616.2h1.0M377.6 611.8h1.0M377.6 599.0h1.0M377.8 582.7h1.0M379.0 634.7h1.0M379.1 633.0h1.0M378.8 631.4h1.0M379.0 631.1h1.0M379.1 628.7h1.0M379.0 626.3h1.0M379.2 624.5h1.0M379.3 616.2h1.0M378.8 615.2h1.0M378.9 612.4h1.0M379.2 594.4h1.0M378.7 588.0h1.0M380.2 636.2h1.0M380.4 636.2h1.0M379.6 634.7h1.0M379.8 633.2h1.0M380.2 629.9h1.0M379.9 625.9h1.0M379.9 619.5h1.0M379.9 615.1h1.0M381.1 634.1h1.0M381.5 634.5h1.0M381.1 633.5h1.0M380.7 630.8h1.0M380.8 631.3h1.0M380.8 629.6h1.0M381.4 610.9h1.0M381.8 634.5h1.0M381.7 633.6h1.0M382.2 631.0h1.0M382.1 625.1h1.0M381.7 621.4h1.0M381.7 621.2h1.0M382.5 621.1h1.0M381.7 619.8h1.0M381.7 618.4h1.0M382.0 614.5h1.0M381.9 614.3h1.0M382.7 634.9h1.0M382.6 631.7h1.0M382.8 627.6h1.0M383.1 624.2h1.0M382.9 617.4h1.0M382.9 614.1h1.0M382.8 613.5h1.0M383.1 600.2h1.0M382.9 585.3h1.0M383.7 627.9h1.0M384.5 621.0h1.0M383.9 599.0h1.0M384.6 631.8h1.0M385.0 632.1h1.0M384.6 631.6h1.0M385.4 630.7h1.0M385.0 630.2h1.0M384.5 625.5h1.0M385.0 610.7h1.0M385.5 574.0h1.0M386.1 630.6h1.0M386.0 629.7h1.0M386.2 630.0h1.0M386.1 627.6h1.0M386.1 627.8h1.0M386.2 626.8h1.0M386.2 625.5h1.0M386.4 624.0h1.0M385.6 612.0h1.0M386.5 611.0h1.0M386.0 594.0h1.0M385.6 592.5h1.0M386.0 579.8h1.0M387.5 634.6h1.0M386.8 627.0h1.0M386.6 623.8h1.0M386.9 622.9h1.0M387.4 620.7h1.0M387.3 617.8h1.0M387.5 611.5h1.0M387.9 629.9h1.0M388.0 627.9h1.0M388.0 626.9h1.0M388.1 625.7h1.0M388.3 626.4h1.0M387.9 625.2h1.0M387.8 615.8h1.0M387.6 610.7h1.0M388.9 632.3h1.0M389.2 633.0h1.0M389.4 631.8h1.0M389.4 630.6h1.0M389.3 628.2h1.0M389.0 613.7h1.0M388.9 605.3h1.0M390.2 629.2h1.0M390.1 624.2h1.0M390.3 623.5h1.0M389.6 618.1h1.0M389.7 602.5h1.0M389.7 587.4h1.0M389.6 575.6h1.0M391.5 626.6h1.0M390.7 621.4h1.0M390.6 612.3h1.0M390.5 611.0h1.0M390.5 605.9h1.0M390.5 590.3h1.0M390.8 587.2h1.0M391.6 628.2h1.0M392.3 627.8h1.0M392.0 622.3h1.0M392.3 614.4h1.0M391.7 607.4h1.0M392.1 592.6h1.0M392.1 573.8h1.0M392.8 630.6h1.0M392.6 628.0h1.0M392.7 627.9h1.0M392.8 625.8h1.0M393.0 624.4h1.0M393.4 619.4h1.0M393.9 614.8h1.0M393.5 614.5h1.0M338.5 554.5h1.0M388.3 558.0h1.0M309.5 577.5h1.0M332.5 577.5h1.0M354.5 577.5h1.0" stroke="#e8191c" stroke-width="2.0" stroke-linecap="square" fill="none"/>
<text x="89.6" y="36.7" font-size="24" fill="#111" font-weight="bold" textLength="18.4" lengthAdjust="spacingAndGlyphs" stroke="#111" stroke-width="0.5">A</text>
<circle cx="155.6" cy="62.3" r="4.3" fill="#e31e24"/>
<text x="166.8" y="67.3" font-size="17" fill="#1a1a1a" textLength="36.5" lengthAdjust="spacingAndGlyphs">Up in</text>
<text x="209.2" y="67.3" font-size="17" fill="#1a1a1a" font-style="italic" textLength="41.5" lengthAdjust="spacingAndGlyphs">Tbx21</text>
<text x="251.2" y="60.2" font-size="10" fill="#1a1a1a" font-style="italic" textLength="16.5" lengthAdjust="spacingAndGlyphs">−/−</text>
<circle cx="285.4" cy="62.3" r="4.3" fill="#1b8bd0"/>
<text x="296.0" y="67.3" font-size="17" fill="#1a1a1a" textLength="58.5" lengthAdjust="spacingAndGlyphs">Down in</text>
<text x="359.6" y="67.3" font-size="17" fill="#1a1a1a" font-style="italic" textLength="39.5" lengthAdjust="spacingAndGlyphs">Tbx21</text>
<text x="399.8" y="60.2" font-size="10" fill="#1a1a1a" font-style="italic" textLength="20" lengthAdjust="spacingAndGlyphs">−/−</text>
<rect x="172.2" y="80.4" width="223.5" height="229.20000000000002" fill="none" stroke="#111" stroke-width="2.1"/>
<line x1="283.6" y1="84.10000000000001" x2="283.6" y2="308.6" stroke="#111" stroke-width="1.3" stroke-dasharray="3,6.3"/>
<line x1="165.79999999999998" y1="309.60" x2="172.2" y2="309.60" stroke="#111" stroke-width="1.7"/>
<text x="159.2" y="314.6" font-size="17" fill="#1a1a1a" text-anchor="end" textLength="8.2" lengthAdjust="spacingAndGlyphs">0</text>
<line x1="165.79999999999998" y1="232.85" x2="172.2" y2="232.85" stroke="#111" stroke-width="1.7"/>
<text x="159.2" y="237.85" font-size="17" fill="#1a1a1a" text-anchor="end" textLength="26.5" lengthAdjust="spacingAndGlyphs">100</text>
<line x1="165.79999999999998" y1="156.10" x2="172.2" y2="156.10" stroke="#111" stroke-width="1.7"/>
<text x="159.2" y="161.1" font-size="17" fill="#1a1a1a" text-anchor="end" textLength="27.5" lengthAdjust="spacingAndGlyphs">200</text>
<line x1="176.80" y1="309.6" x2="176.80" y2="315.40000000000003" stroke="#111" stroke-width="1.7"/>
<text x="176.8" y="335.6" font-size="17" fill="#1a1a1a" text-anchor="middle" textLength="17.4" lengthAdjust="spacingAndGlyphs">−4</text>
<line x1="230.20" y1="309.6" x2="230.20" y2="315.40000000000003" stroke="#111" stroke-width="1.7"/>
<text x="230.2" y="335.6" font-size="17" fill="#1a1a1a" text-anchor="middle" textLength="17.4" lengthAdjust="spacingAndGlyphs">−2</text>
<line x1="283.60" y1="309.6" x2="283.60" y2="315.40000000000003" stroke="#111" stroke-width="1.7"/>
<text x="283.6" y="335.6" font-size="17" fill="#1a1a1a" text-anchor="middle" textLength="8.2" lengthAdjust="spacingAndGlyphs">0</text>
<line x1="337.00" y1="309.6" x2="337.00" y2="315.40000000000003" stroke="#111" stroke-width="1.7"/>
<text x="337.0" y="335.6" font-size="17" fill="#1a1a1a" text-anchor="middle" textLength="7.8" lengthAdjust="spacingAndGlyphs">2</text>
<line x1="390.40" y1="309.6" x2="390.40" y2="315.40000000000003" stroke="#111" stroke-width="1.7"/>
<text x="390.4" y="335.6" font-size="17" fill="#1a1a1a" text-anchor="middle" textLength="8.4" lengthAdjust="spacingAndGlyphs">4</text>
<text x="283.7" y="363.7" font-size="21" fill="#1a1a1a" text-anchor="middle" textLength="54.6" lengthAdjust="spacingAndGlyphs">Log2 FC</text>
<text transform="translate(119.8,195.4) rotate(-90)" x="0" y="0" font-size="20.5" fill="#1a1a1a" text-anchor="middle" textLength="83" lengthAdjust="spacingAndGlyphs">−Log10 FDR</text>
<text x="224.3" y="113.7" font-size="17" fill="#1b8bd0" text-anchor="middle" textLength="27.5" lengthAdjust="spacingAndGlyphs">879</text>
<text x="336.2" y="115.0" font-size="17" fill="#e31e24" text-anchor="middle" textLength="36.3" lengthAdjust="spacingAndGlyphs">4772</text>
<text x="90.6" y="402.9" font-size="24" fill="#111" font-weight="bold" textLength="15.6" lengthAdjust="spacingAndGlyphs" stroke="#111" stroke-width="0.5">B</text>
<text x="114.0" y="426.8" font-size="15.8" fill="#1a1a1a" font-style="italic" textLength="75" lengthAdjust="spacingAndGlyphs">ICGC-CLL</text>
<circle cx="189.3" cy="450.3" r="4.4" fill="#e31e24"/>
<text x="200.6" y="454.8" font-size="16.5" fill="#1a1a1a" textLength="36.2" lengthAdjust="spacingAndGlyphs">Up in</text>
<text x="242.8" y="454.8" font-size="16.5" fill="#1a1a1a" font-style="italic" textLength="44.5" lengthAdjust="spacingAndGlyphs">TBX21</text>
<text x="288.5" y="447.7" font-size="10.5" fill="#1a1a1a" textLength="16.6" lengthAdjust="spacingAndGlyphs">low</text>
<text x="310.3" y="454.8" font-size="16.5" fill="#1a1a1a" textLength="26" lengthAdjust="spacingAndGlyphs">CLL</text>
<circle cx="189.3" cy="473.6" r="4.4" fill="#1b8bd0"/>
<text x="200.6" y="478.5" font-size="16.5" fill="#1a1a1a" textLength="56.8" lengthAdjust="spacingAndGlyphs">Down in</text>
<text x="264.0" y="478.5" font-size="16.5" fill="#1a1a1a" font-style="italic" textLength="44" lengthAdjust="spacingAndGlyphs">TBX21</text>
<text x="309.2" y="471.4" font-size="10.5" fill="#1a1a1a" textLength="16.6" lengthAdjust="spacingAndGlyphs">low</text>
<text x="330.5" y="478.5" font-size="16.5" fill="#1a1a1a" textLength="25.8" lengthAdjust="spacingAndGlyphs">CLL</text>
<rect x="172.3" y="489.7" width="223.3" height="203.90000000000003" fill="none" stroke="#111" stroke-width="2.1"/>
<line x1="283.6" y1="490.9" x2="283.6" y2="692.6" stroke="#111" stroke-width="1.3" stroke-dasharray="2.8,1.8"/>
<line x1="165.9" y1="681.70" x2="172.3" y2="681.70" stroke="#111" stroke-width="1.7"/>
<text x="159.3" y="686.7" font-size="17" fill="#1a1a1a" text-anchor="end" textLength="8.4" lengthAdjust="spacingAndGlyphs">0</text>
<line x1="165.9" y1="617.00" x2="172.3" y2="617.00" stroke="#111" stroke-width="1.7"/>
<text x="159.3" y="622.0" font-size="17" fill="#1a1a1a" text-anchor="end" textLength="8.4" lengthAdjust="spacingAndGlyphs">2</text>
<line x1="165.9" y1="552.30" x2="172.3" y2="552.30" stroke="#111" stroke-width="1.7"/>
<text x="159.3" y="557.3" font-size="17" fill="#1a1a1a" text-anchor="end" textLength="8.6" lengthAdjust="spacingAndGlyphs">4</text>
<line x1="220.50" y1="693.6" x2="220.50" y2="699.4" stroke="#111" stroke-width="1.7"/>
<text x="220.5" y="720.3" font-size="17" fill="#1a1a1a" text-anchor="middle" textLength="17.3" lengthAdjust="spacingAndGlyphs">−1</text>
<line x1="283.60" y1="693.6" x2="283.60" y2="699.4" stroke="#111" stroke-width="1.7"/>
<text x="283.6" y="720.3" font-size="17" fill="#1a1a1a" text-anchor="middle" textLength="8.7" lengthAdjust="spacingAndGlyphs">0</text>
<line x1="346.70" y1="693.6" x2="346.70" y2="699.4" stroke="#111" stroke-width="1.7"/>
<text x="346.7" y="720.3" font-size="17" fill="#1a1a1a" text-anchor="middle" textLength="7.5" lengthAdjust="spacingAndGlyphs">1</text>
<text x="283.8" y="748.0" font-size="21" fill="#1a1a1a" text-anchor="middle" textLength="56" lengthAdjust="spacingAndGlyphs">Log2 FC</text>
<text transform="translate(139.2,591.5) rotate(-90)" x="0" y="0" font-size="20.5" fill="#1a1a1a" text-anchor="middle" textLength="83" lengthAdjust="spacingAndGlyphs">−Log10 FDR</text>
<text x="223.3" y="525.0" font-size="17" fill="#1b8bd0" text-anchor="middle" textLength="26.7" lengthAdjust="spacingAndGlyphs">651</text>
<text x="336.2" y="525.0" font-size="17" fill="#e31e24" text-anchor="middle" textLength="36.4" lengthAdjust="spacingAndGlyphs">1312</text>
<text x="13.6" y="783.8" font-size="24" fill="#111" font-weight="bold" textLength="16.8" lengthAdjust="spacingAndGlyphs" stroke="#111" stroke-width="0.5">C</text>
<text x="59.5" y="809.2" font-size="17" fill="#1a1a1a" text-anchor="middle" textLength="36.4" lengthAdjust="spacingAndGlyphs">TCL1</text>
<text x="131.0" y="809.2" font-size="17" fill="#1a1a1a" text-anchor="middle" textLength="44.4" lengthAdjust="spacingAndGlyphs">U-CLL</text>
<text x="204.5" y="809.2" font-size="17" fill="#1a1a1a" text-anchor="middle" textLength="48.5" lengthAdjust="spacingAndGlyphs">M-CLL</text>
<rect x="26.3" y="816.3" width="32.800000000000004" height="15.8" fill="#d0021b"/>
<rect x="58.5" y="816.3" width="32.3" height="15.8" fill="#164b88"/>
<rect x="27.1" y="817.1" width="62.9" height="14.2" fill="none" stroke="#111" stroke-width="1.6"/>
<rect x="99.7" y="816.3" width="31.999999999999993" height="15.8" fill="#d0021b"/>
<rect x="131.1" y="816.3" width="31.599999999999994" height="15.8" fill="#164b88"/>
<rect x="100.5" y="817.1" width="61.399999999999984" height="14.2" fill="none" stroke="#111" stroke-width="1.6"/>
<rect x="173.2" y="816.3" width="32.30000000000002" height="15.8" fill="#d0021b"/>
<rect x="204.9" y="816.3" width="31.69999999999999" height="15.8" fill="#164b88"/>
<rect x="174.0" y="817.1" width="61.800000000000004" height="14.2" fill="none" stroke="#111" stroke-width="1.6"/>
<rect x="26.3" y="838.50" width="32.800000000000004" height="32.27" fill="#14a07d" shape-rendering="crispEdges"/>
<rect x="58.5" y="838.50" width="32.3" height="32.27" fill="#128296" shape-rendering="crispEdges"/>
<rect x="99.7" y="838.50" width="31.999999999999993" height="32.27" fill="#e0d92d" shape-rendering="crispEdges"/>
<rect x="131.1" y="838.50" width="31.599999999999994" height="32.27" fill="#128296" shape-rendering="crispEdges"/>
<rect x="173.2" y="838.50" width="32.30000000000002" height="32.27" fill="#78be55" shape-rendering="crispEdges"/>
<rect x="204.9" y="838.50" width="31.69999999999999" height="32.27" fill="#2869a0" shape-rendering="crispEdges"/>
<rect x="26.3" y="870.17" width="32.800000000000004" height="32.27" fill="#14a07d" shape-rendering="crispEdges"/>
<rect x="58.5" y="870.17" width="32.3" height="32.27" fill="#128296" shape-rendering="crispEdges"/>
<rect x="99.7" y="870.17" width="31.999999999999993" height="32.27" fill="#cdd241" shape-rendering="crispEdges"/>
<rect x="131.1" y="870.17" width="31.599999999999994" height="32.27" fill="#128296" shape-rendering="crispEdges"/>
<rect x="173.2" y="870.17" width="32.30000000000002" height="32.27" fill="#28aa5f" shape-rendering="crispEdges"/>
<rect x="204.9" y="870.17" width="31.69999999999999" height="32.27" fill="#0f9196" shape-rendering="crispEdges"/>
<rect x="26.3" y="901.83" width="32.800000000000004" height="32.27" fill="#12a080" shape-rendering="crispEdges"/>
<rect x="58.5" y="901.83" width="32.3" height="32.27" fill="#0f8c96" shape-rendering="crispEdges"/>
<rect x="99.7" y="901.83" width="31.999999999999993" height="32.27" fill="#1ea573" shape-rendering="crispEdges"/>
<rect x="131.1" y="901.83" width="31.599999999999994" height="32.27" fill="#0f9b96" shape-rendering="crispEdges"/>
<rect x="173.2" y="901.83" width="32.30000000000002" height="32.27" fill="#19a573" shape-rendering="crispEdges"/>
<rect x="204.9" y="901.83" width="31.69999999999999" height="32.27" fill="#0f7da0" shape-rendering="crispEdges"/>
<rect x="26.3" y="933.50" width="32.800000000000004" height="32.27" fill="#0f8c9b" shape-rendering="crispEdges"/>
<rect x="58.5" y="933.50" width="32.3" height="32.27" fill="#0fa57d" shape-rendering="crispEdges"/>
<rect x="99.7" y="933.50" width="31.999999999999993" height="32.27" fill="#1478a5" shape-rendering="crispEdges"/>
<rect x="131.1" y="933.50" width="31.599999999999994" height="32.27" fill="#1ea573" shape-rendering="crispEdges"/>
<rect x="173.2" y="933.50" width="32.30000000000002" height="32.27" fill="#2d5fa0" shape-rendering="crispEdges"/>
<rect x="204.9" y="933.50" width="31.69999999999999" height="32.27" fill="#1ea56e" shape-rendering="crispEdges"/>
<rect x="26.3" y="965.17" width="32.800000000000004" height="32.27" fill="#1973a0" shape-rendering="crispEdges"/>
<rect x="58.5" y="965.17" width="32.3" height="32.27" fill="#0fa57d" shape-rendering="crispEdges"/>
<rect x="99.7" y="965.17" width="31.999999999999993" height="32.27" fill="#3b5a9b" shape-rendering="crispEdges"/>
<rect x="131.1" y="965.17" width="31.599999999999994" height="32.27" fill="#19a578" shape-rendering="crispEdges"/>
<rect x="173.2" y="965.17" width="32.30000000000002" height="32.27" fill="#1973a0" shape-rendering="crispEdges"/>
<rect x="204.9" y="965.17" width="31.69999999999999" height="32.27" fill="#19a578" shape-rendering="crispEdges"/>
<rect x="26.3" y="996.83" width="32.800000000000004" height="32.27" fill="#1973a0" shape-rendering="crispEdges"/>
<rect x="58.5" y="996.83" width="32.3" height="32.27" fill="#0fa57d" shape-rendering="crispEdges"/>
<rect x="99.7" y="996.83" width="31.999999999999993" height="32.27" fill="#236ea0" shape-rendering="crispEdges"/>
<rect x="131.1" y="996.83" width="31.599999999999994" height="32.27" fill="#28aa5f" shape-rendering="crispEdges"/>
<rect x="173.2" y="996.83" width="32.30000000000002" height="32.27" fill="#0fa091" shape-rendering="crispEdges"/>
<rect x="204.9" y="996.83" width="31.69999999999999" height="32.27" fill="#1eaa6e" shape-rendering="crispEdges"/>
<rect x="26.3" y="1028.50" width="32.800000000000004" height="32.27" fill="#1478a0" shape-rendering="crispEdges"/>
<rect x="58.5" y="1028.50" width="32.3" height="32.27" fill="#14a07d" shape-rendering="crispEdges"/>
<rect x="99.7" y="1028.50" width="31.999999999999993" height="32.27" fill="#465596" shape-rendering="crispEdges"/>
<rect x="131.1" y="1028.50" width="31.599999999999994" height="32.27" fill="#14a57d" shape-rendering="crispEdges"/>
<rect x="173.2" y="1028.50" width="32.30000000000002" height="32.27" fill="#643c87" shape-rendering="crispEdges"/>
<rect x="204.9" y="1028.50" width="31.69999999999999" height="32.27" fill="#55b45f" shape-rendering="crispEdges"/>
<rect x="26.3" y="1060.17" width="32.800000000000004" height="32.27" fill="#236ea0" shape-rendering="crispEdges"/>
<rect x="58.5" y="1060.17" width="32.3" height="32.27" fill="#19a56e" shape-rendering="crispEdges"/>
<rect x="99.7" y="1060.17" width="31.999999999999993" height="32.27" fill="#50509a" shape-rendering="crispEdges"/>
<rect x="131.1" y="1060.17" width="31.599999999999994" height="32.27" fill="#14a57d" shape-rendering="crispEdges"/>
<rect x="173.2" y="1060.17" width="32.30000000000002" height="32.27" fill="#692378" shape-rendering="crispEdges"/>
<rect x="204.9" y="1060.17" width="31.69999999999999" height="32.27" fill="#b9cd46" shape-rendering="crispEdges"/>
<rect x="26.3" y="1091.83" width="32.800000000000004" height="32.27" fill="#0f8c9b" shape-rendering="crispEdges"/>
<rect x="58.5" y="1091.83" width="32.3" height="32.27" fill="#0fa08c" shape-rendering="crispEdges"/>
<rect x="99.7" y="1091.83" width="31.999999999999993" height="32.27" fill="#55468c" shape-rendering="crispEdges"/>
<rect x="131.1" y="1091.83" width="31.599999999999994" height="32.27" fill="#23aa5f" shape-rendering="crispEdges"/>
<rect x="173.2" y="1091.83" width="32.30000000000002" height="32.27" fill="#643782" shape-rendering="crispEdges"/>
<rect x="204.9" y="1091.83" width="31.69999999999999" height="32.27" fill="#55b45f" shape-rendering="crispEdges"/>
<rect x="26.3" y="1123.50" width="32.800000000000004" height="32.27" fill="#127da0" shape-rendering="crispEdges"/>
<rect x="58.5" y="1123.50" width="32.3" height="32.27" fill="#19a573" shape-rendering="crispEdges"/>
<rect x="99.7" y="1123.50" width="31.999999999999993" height="32.27" fill="#5f2d7d" shape-rendering="crispEdges"/>
<rect x="131.1" y="1123.50" width="31.599999999999994" height="32.27" fill="#14a57d" shape-rendering="crispEdges"/>
<rect x="173.2" y="1123.50" width="32.30000000000002" height="32.27" fill="#6e1469" shape-rendering="crispEdges"/>
<rect x="204.9" y="1123.50" width="31.69999999999999" height="32.27" fill="#d2d73c" shape-rendering="crispEdges"/>
<rect x="26.3" y="1155.17" width="32.800000000000004" height="32.27" fill="#127da0" shape-rendering="crispEdges"/>
<rect x="58.5" y="1155.17" width="32.3" height="32.27" fill="#19a573" shape-rendering="crispEdges"/>
<rect x="99.7" y="1155.17" width="31.999999999999993" height="32.27" fill="#5f3c87" shape-rendering="crispEdges"/>
<rect x="131.1" y="1155.17" width="31.599999999999994" height="32.27" fill="#2daa5a" shape-rendering="crispEdges"/>
<rect x="173.2" y="1155.17" width="32.30000000000002" height="32.27" fill="#692878" shape-rendering="crispEdges"/>
<rect x="204.9" y="1155.17" width="31.69999999999999" height="32.27" fill="#7dbe55" shape-rendering="crispEdges"/>
<rect x="26.3" y="1186.83" width="32.800000000000004" height="32.27" fill="#1487a0" shape-rendering="crispEdges"/>
<rect x="58.5" y="1186.83" width="32.3" height="32.27" fill="#14a57d" shape-rendering="crispEdges"/>
<rect x="99.7" y="1186.83" width="31.999999999999993" height="32.27" fill="#64196e" shape-rendering="crispEdges"/>
<rect x="131.1" y="1186.83" width="31.599999999999994" height="32.27" fill="#a0c350" shape-rendering="crispEdges"/>
<rect x="173.2" y="1186.83" width="32.30000000000002" height="32.27" fill="#2869a0" shape-rendering="crispEdges"/>
<rect x="204.9" y="1186.83" width="31.69999999999999" height="32.27" fill="#b4cd4b" shape-rendering="crispEdges"/>
<rect x="27.1" y="838.5" width="62.9" height="380.0" fill="none" stroke="#111" stroke-width="1.6"/>
<rect x="100.5" y="838.5" width="61.399999999999984" height="380.0" fill="none" stroke="#111" stroke-width="1.6"/>
<rect x="174.0" y="838.5" width="61.800000000000004" height="380.0" fill="none" stroke="#111" stroke-width="1.6"/>
<text x="243.0" y="859.3" font-size="17" fill="#1a1a1a" textLength="148.10000000000002" lengthAdjust="spacingAndGlyphs">bZIP.IRF.bZIP.IRF_29</text>
<text x="243.0" y="890.9" font-size="17" fill="#1a1a1a" textLength="153.8" lengthAdjust="spacingAndGlyphs">IRF.BATF.IRF.bZIP_19</text>
<text x="243.0" y="922.5" font-size="17" fill="#1a1a1a" textLength="117.3" lengthAdjust="spacingAndGlyphs">T1ISRE.IRF_280</text>
<text x="243.0" y="954.1" font-size="17" fill="#1a1a1a" textLength="183.5" lengthAdjust="spacingAndGlyphs">NFkB.p50.p52.RHD_204</text>
<text x="243.0" y="985.7" font-size="17" fill="#1a1a1a" textLength="94.2" lengthAdjust="spacingAndGlyphs">BORIS.Zf_25</text>
<text x="243.0" y="1017.3" font-size="17" fill="#1a1a1a" textLength="86.5" lengthAdjust="spacingAndGlyphs">CTCF.Zf_43</text>
<text x="243.0" y="1048.9" font-size="17" fill="#1a1a1a" textLength="262.6" lengthAdjust="spacingAndGlyphs">OCT4.SOX2.TCF.NANOG.POU (...)</text>
<text x="243.0" y="1080.5" font-size="17" fill="#1a1a1a" textLength="201.20000000000002" lengthAdjust="spacingAndGlyphs">Oct4.POU.Homeobox_196</text>
<text x="243.0" y="1112.1" font-size="17" fill="#1a1a1a" textLength="202.3" lengthAdjust="spacingAndGlyphs">Oct6.POU.Homeobox_199</text>
<text x="243.0" y="1143.7" font-size="17" fill="#1a1a1a" textLength="201.20000000000002" lengthAdjust="spacingAndGlyphs">Oct2.POU.Homeobox_195</text>
<text x="243.0" y="1175.3" font-size="17" fill="#1a1a1a" textLength="189.20000000000002" lengthAdjust="spacingAndGlyphs">Brn1.POU.Homeobox_27</text>
<text x="243.0" y="1206.9" font-size="17" fill="#1a1a1a" textLength="190.4" lengthAdjust="spacingAndGlyphs">E2A.bHLH..near_PU.1_57</text>
<text x="103.0" y="1247.5" font-size="17" fill="#1a1a1a" textLength="46.8" lengthAdjust="spacingAndGlyphs">Origin</text>
<rect x="103.3" y="1257" width="25.1" height="24.4" fill="#164b88"/>
<rect x="103.3" y="1281.4" width="25.1" height="25.4" fill="#d0021b"/>
<text x="135.6" y="1273.8" font-size="16.5" fill="#1a1a1a" font-style="italic" textLength="46.5" lengthAdjust="spacingAndGlyphs">TBX21</text>
<text x="183.6" y="1267.6" font-size="11.5" fill="#1a1a1a" textLength="40.6" lengthAdjust="spacingAndGlyphs">low/KO</text>
<text x="135.6" y="1298.4" font-size="16.5" fill="#1a1a1a" font-style="italic" textLength="46.5" lengthAdjust="spacingAndGlyphs">TBX21</text>
<text x="183.6" y="1292.9" font-size="11.5" fill="#1a1a1a" textLength="46" lengthAdjust="spacingAndGlyphs">high/WT</text>
<defs><linearGradient id="vir" x1="0" x2="1" y1="0" y2="0"><stop offset="0" stop-color="#6a1b78"/><stop offset="0.25" stop-color="#484f98"/><stop offset="0.5" stop-color="#159590"/><stop offset="0.75" stop-color="#4cb85e"/><stop offset="1" stop-color="#f3e21c"/></linearGradient></defs>
<rect x="323.4" y="1258.3" width="126.3" height="25" fill="url(#vir)"/>
<line x1="326.2" y1="1258.3" x2="326.2" y2="1263" stroke="#fff" stroke-width="1.2"/>
<line x1="326.2" y1="1278.3" x2="326.2" y2="1283.3" stroke="#fff" stroke-width="1.2"/>
<line x1="357.4" y1="1258.3" x2="357.4" y2="1263" stroke="#fff" stroke-width="1.2"/>
<line x1="357.4" y1="1278.3" x2="357.4" y2="1283.3" stroke="#fff" stroke-width="1.2"/>
<line x1="388.1" y1="1258.3" x2="388.1" y2="1263" stroke="#fff" stroke-width="1.2"/>
<line x1="388.1" y1="1278.3" x2="388.1" y2="1283.3" stroke="#fff" stroke-width="1.2"/>
<line x1="417.6" y1="1258.3" x2="417.6" y2="1263" stroke="#fff" stroke-width="1.2"/>
<line x1="417.6" y1="1278.3" x2="417.6" y2="1283.3" stroke="#fff" stroke-width="1.2"/>
<line x1="447.5" y1="1258.3" x2="447.5" y2="1263" stroke="#fff" stroke-width="1.2"/>
<line x1="447.5" y1="1278.3" x2="447.5" y2="1283.3" stroke="#fff" stroke-width="1.2"/>
<text x="297.0" y="1247.5" font-size="17" fill="#1a1a1a" textLength="175" lengthAdjust="spacingAndGlyphs">Mean motif enrichment</text>
<text x="326.2" y="1304" font-size="17" fill="#1a1a1a" text-anchor="middle" textLength="18" lengthAdjust="spacingAndGlyphs">−2</text>
<text x="357.4" y="1304" font-size="17" fill="#1a1a1a" text-anchor="middle" textLength="18" lengthAdjust="spacingAndGlyphs">−1</text>
<text x="388.1" y="1304" font-size="17" fill="#1a1a1a" text-anchor="middle" textLength="8.6" lengthAdjust="spacingAndGlyphs">0</text>
<text x="417.6" y="1304" font-size="17" fill="#1a1a1a" text-anchor="middle" textLength="7.5" lengthAdjust="spacingAndGlyphs">1</text>
<text x="447.5" y="1304" font-size="17" fill="#1a1a1a" text-anchor="middle" textLength="8.4" lengthAdjust="spacingAndGlyphs">2</text>
<rect x="0.5" y="0.5" width="519" height="1321" fill="none" stroke="#000" stroke-width="1"/>
</svg></body></html>
